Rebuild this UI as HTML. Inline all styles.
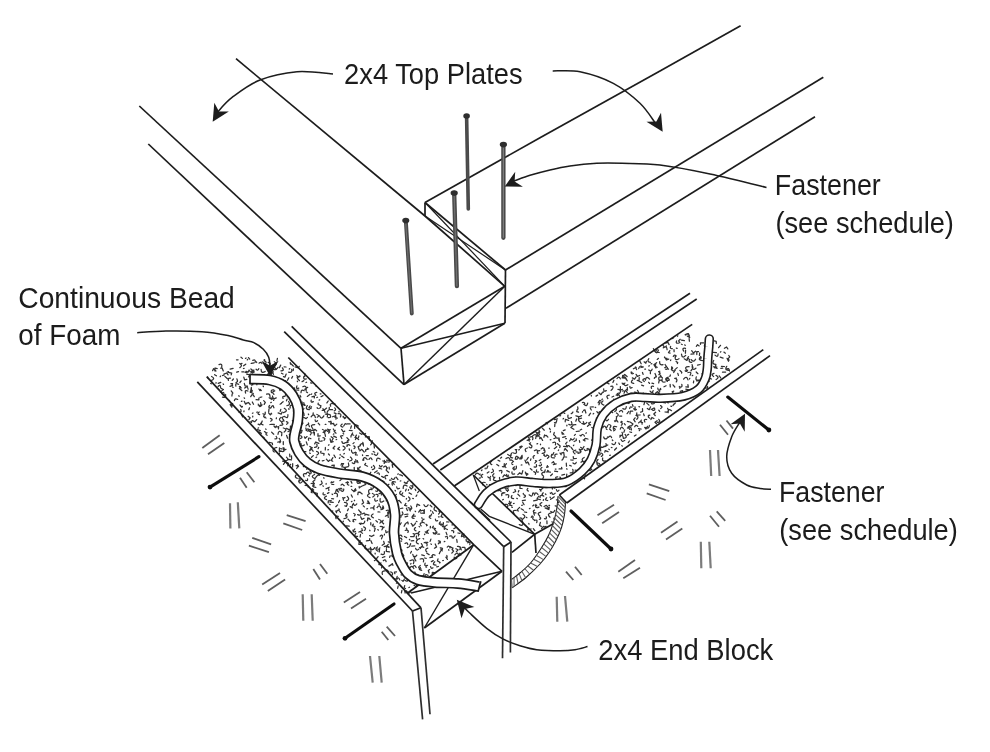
<!DOCTYPE html>
<html><head><meta charset="utf-8"><title>SIP corner detail</title>
<style>html,body{margin:0;padding:0;background:#fff}svg{display:block}text{font-family:"Liberation Sans",sans-serif}</style>
</head><body>
<svg width="990" height="752" viewBox="0 0 990 752" stroke-linecap="butt">
<defs><filter id="soft" x="0" y="0" width="990" height="752" filterUnits="userSpaceOnUse"><feGaussianBlur stdDeviation="0.42"/></filter></defs>
<rect width="990" height="752" fill="#ffffff"/>
<g filter="url(#soft)">
<path d="M236.0,58.7 L425.0,216.0 L504.8,286.3" fill="none" stroke="#1c1c1c" stroke-width="1.7" />
<path d="M139.3,106.0 L401.0,348.3" fill="none" stroke="#1c1c1c" stroke-width="1.7" />
<path d="M148.3,144.0 L404.0,384.6" fill="none" stroke="#1c1c1c" stroke-width="1.7" />
<path d="M401.0,348.3 L404.0,384.6" fill="none" stroke="#1c1c1c" stroke-width="1.7" />
<path d="M401.0,348.3 L504.8,286.3" fill="none" stroke="#1c1c1c" stroke-width="1.7" />
<path d="M404.0,384.6 L504.8,323.3" fill="none" stroke="#1c1c1c" stroke-width="1.7" />
<path d="M401.0,348.3 L504.8,323.3" fill="none" stroke="#1c1c1c" stroke-width="1.45" />
<path d="M404.0,384.6 L504.8,286.3" fill="none" stroke="#1c1c1c" stroke-width="1.45" />
<path d="M425.0,202.5 L540.0,137.7 L660.0,71.0 L740.6,25.8" fill="none" stroke="#1c1c1c" stroke-width="1.7" />
<path d="M505.5,270.0 L823.3,77.3" fill="none" stroke="#1c1c1c" stroke-width="1.7" />
<path d="M506.0,308.3 L815.0,116.7" fill="none" stroke="#1c1c1c" stroke-width="1.7" />
<path d="M505.5,270.0 L505.0,323.3" fill="none" stroke="#1c1c1c" stroke-width="1.7" />
<path d="M425.0,202.5 L425.0,216.0" fill="none" stroke="#1c1c1c" stroke-width="1.7" />
<path d="M425.0,202.5 L505.5,270.0" fill="none" stroke="#1c1c1c" stroke-width="1.7" />
<path d="M425.0,202.5 L504.8,286.3" fill="none" stroke="#1c1c1c" stroke-width="1.2" />
<path d="M425.0,216.0 L505.5,270.0" fill="none" stroke="#1c1c1c" stroke-width="1.2" />
<path d="M246.1,358.0l-0.6,0.4M248.5,357.6l1.2,1.5M236.5,359.8l1.6,0.0M242.4,358.4l-1.4,-1.2M247.3,359.9l0.4,-0.6M252.8,360.4q3.0,-1.4 2.4,1.8M256.7,362.5l-0.3,-0.7M264.2,359.6l0.6,0.4M268.1,362.3q3.8,1.1 0.6,3.5M274.3,361.7q4.1,1.8 0.3,4.2M277.4,358.4l-0.5,2.6M290.2,362.5l0.3,1.7M221.7,366.9q0.8,-3.7 -2.7,-2.3M242.0,363.4l-1.7,0.7M243.6,365.8l2.1,-1.6M251.2,363.4l3.0,-0.6M262.0,363.5q-1.2,-2.3 -2.9,-0.3M264.9,364.3q2.8,-2.7 -1.0,-3.4M268.5,367.2l1.8,-0.3M273.4,366.3q-1.4,4.3 3.0,3.2M280.7,365.1l-1.3,2.5M284.1,366.8l1.9,0.2M291.0,363.8l2.3,2.2M295.1,366.9l3.4,0.9l0.7,-1.5M214.8,370.8l0.3,-2.8l2.1,0.6M215.9,371.0l-2.3,-2.4l-1.0,2.1M223.3,370.9l-1.2,-2.9l-1.4,0.1M228.6,371.6l-1.4,0.4M233.1,368.4l-3.0,0.8M239.8,367.7q3.4,-2.2 -0.1,-4.2M244.2,368.3l-0.7,0.2M246.1,371.3l2.2,0.7l0.8,-2.0M253.9,370.0q-1.7,5.0 -4.5,0.5M258.8,368.6q-0.8,2.6 -2.7,0.6M261.1,369.4q0.1,4.7 4.1,2.1M269.9,371.4l2.0,1.3l-0.7,2.3M273.0,371.2l0.1,0.7M277.9,367.4q-1.4,2.9 -3.1,0.2M282.4,367.8q2.4,3.1 -1.5,3.0M289.8,368.6l-0.5,0.4M293.4,368.9l-0.2,1.6M216.4,375.8l-1.8,-1.1M222.4,375.5l1.6,-0.3M223.9,374.1l2.8,-1.1l1.4,1.8M228.3,372.3l3.4,0.8l-0.5,1.8M236.7,372.2l1.8,-0.6M241.8,371.8l2.0,-0.0M247.0,372.8l-2.0,-0.6M251.2,372.0l1.6,-1.4l-1.9,-1.6M254.3,371.9l-2.0,1.1l-0.6,-1.9M259.2,376.1l0.8,-1.6M270.5,372.6l-3.1,1.8l1.1,0.9M273.4,374.4l-0.6,-2.1M281.5,373.2l1.5,0.8M286.2,374.1l-1.3,3.1l-1.4,-0.6M288.6,372.1q3.9,1.3 3.1,-2.7M296.9,375.4q0.8,3.0 3.1,1.0M299.9,375.8l-2.7,1.7l0.9,1.7M207.7,377.1l-0.1,0.7M211.6,376.5q4.0,1.8 0.1,3.9M220.2,376.7l0.3,-0.6M224.9,376.4l2.3,2.1M228.4,380.4q-0.7,-2.7 2.0,-2.3M233.4,379.0l-1.2,1.3M236.9,378.9l0.6,1.9M243.8,377.1l0.8,2.8l2.3,-0.6M248.7,376.9q1.7,-3.1 -1.8,-2.5M252.6,376.5q2.7,1.1 1.9,-1.7M262.7,377.0q2.7,-1.2 2.8,1.8M266.0,376.9q0.3,4.1 -3.5,2.7M276.2,378.5l1.6,-0.3M285.0,380.6l0.7,0.2M287.5,380.3l1.3,-2.5M291.7,378.1l0.9,-1.6M297.5,378.6l1.9,1.9M304.8,376.4l0.1,-2.9M306.3,378.9q-3.4,0.9 -2.4,-2.4M210.7,383.4l0.6,0.4M216.1,382.5l-0.1,0.7M220.8,382.4l-2.6,1.0M223.5,384.4l-0.4,-0.5M230.9,383.7l1.7,0.0M236.0,382.7l1.4,-1.1M241.2,380.9l-1.3,1.6M244.3,383.4l0.8,2.6l2.4,0.2M251.4,382.8l1.5,1.9l-1.4,0.4M256.9,384.8q-0.2,-3.5 -3.2,-1.7M262.3,380.9l-1.3,0.8M266.8,380.8l1.6,-0.6M271.0,383.0l0.8,-1.8M274.6,381.0l0.4,-2.0l1.8,0.8M281.6,382.8l1.2,0.9M284.8,384.1l1.4,-2.0l1.8,1.8M297.3,381.1l0.3,0.6M302.0,381.7l1.8,-1.1M306.0,382.5l0.6,-0.3M312.0,383.2l-1.4,-0.3M218.1,386.5q2.3,-2.6 2.5,0.9M223.4,389.6l-2.5,-1.3M230.0,386.3l2.6,-1.0l-0.9,-1.6M232.6,387.0l0.6,0.4M235.9,386.2q-0.9,-4.1 2.7,-1.9M241.3,387.9l-1.9,-1.5M248.1,389.2q-0.5,-3.8 -3.3,-1.2M251.3,387.3l0.1,1.9M258.9,389.0l1.1,1.7M263.1,386.0l0.3,0.6M279.3,388.5l0.7,2.0l1.5,-1.2M280.8,389.1l0.1,0.7M287.1,385.3l-0.1,-1.8M294.6,388.4l-0.4,-0.6M298.8,388.2q-3.3,0.8 -1.9,-2.3M302.8,386.7q3.7,-1.6 3.4,2.4M307.7,387.3l-2.9,1.9l1.4,1.1M316.2,386.4l-0.1,-0.7M222.3,390.4l-1.8,1.6M224.7,394.0q2.7,4.2 -2.2,3.2M231.2,390.9l1.7,2.2M241.8,390.5l-2.4,-1.9l1.0,-2.0M245.6,393.1q-1.2,-3.5 2.3,-2.1M250.4,392.3l2.0,-1.3l-1.5,-1.9M253.3,393.5l-3.1,-1.3l0.9,-2.4M261.3,390.6l-0.9,-1.2M266.6,394.2q3.3,-1.3 3.4,2.3M271.5,392.6q-1.1,-3.2 2.3,-2.7M274.8,390.9q-3.7,0.9 -0.9,3.4M286.2,393.3l-1.0,2.2M291.1,393.3l-0.1,-0.7M295.7,390.0l3.1,0.1M301.0,392.7q-0.0,-3.6 3.2,-2.0M306.3,391.8l1.2,0.9M311.7,393.9l-0.5,0.5M316.8,392.3q-3.5,0.5 -1.0,3.0M320.9,393.9l-0.7,-0.1M224.1,395.8l-2.4,-2.3l2.0,-1.0M225.8,394.9l-0.6,-0.4M231.9,396.0l0.3,-2.2M238.8,395.7l0.4,0.6M244.2,397.8l0.4,0.5M254.3,396.7q-1.8,-4.0 -3.6,0.0M261.8,397.0l-1.8,0.4M269.1,397.8l2.8,1.7l1.1,-1.7M271.9,398.0l-1.8,-0.1M276.2,397.9q-3.4,2.0 -3.7,-1.9M284.9,396.5q-2.9,-0.9 -1.8,1.9M287.3,396.6l0.7,0.1M294.6,396.4l-0.2,2.7l-2.3,-0.7M300.1,395.4l0.5,1.5M301.0,396.8l-0.7,0.2M309.8,394.5l-2.5,1.9M311.9,396.8l2.5,-0.7l-0.1,1.8M316.8,397.5l0.7,-0.3M321.0,396.7l2.0,-1.1M229.3,400.5l0.4,0.6M237.7,399.4q-2.6,-1.7 -3.3,1.3M242.0,401.1l-0.6,0.3M244.2,401.3l1.3,2.8l2.0,-1.2M252.3,402.0l1.2,2.3M256.1,399.6l2.8,0.2l0.0,-1.8M263.7,400.6l1.6,1.8l-1.1,2.0M270.8,402.6l0.6,-0.3M273.6,400.4l0.3,-0.6M281.8,402.7l1.3,-1.0M286.5,400.8l0.6,-1.7M288.6,401.5q2.3,3.4 -1.7,4.2M296.4,399.6q0.1,-3.2 -2.9,-2.1M302.2,402.0q-0.6,3.2 2.5,2.5M303.8,402.7l0.4,2.6M313.3,401.6q-2.7,1.6 -2.1,-1.5M319.8,399.8l-0.6,0.3M326.9,402.9l1.3,-1.9M332.6,403.0l-2.3,1.2l0.3,1.9M230.2,404.6l1.6,2.5M232.7,403.5l-2.0,0.8l1.6,1.5M240.0,405.1l1.6,1.9M242.0,407.0l0.4,-0.5M250.2,404.5l-1.8,-2.0l-2.2,0.8M258.3,405.1q3.6,1.2 2.3,-2.4M262.0,404.8q-2.6,3.9 -3.8,-0.6M269.6,405.5q-2.0,2.4 1.1,2.6M271.1,407.4l0.4,-0.6M280.1,404.2l1.3,-0.8M293.1,405.6q-3.7,-1.5 -2.9,2.4M295.8,403.6q0.7,4.7 -3.3,2.1M305.1,405.4l-0.5,-0.5M307.3,405.6q-2.7,4.1 2.2,4.0M311.2,407.3l0.3,-0.6M319.7,405.1q2.7,2.5 -0.9,3.4M321.0,405.8l-2.9,-1.3l0.1,-1.4M332.5,403.7l2.7,0.5M240.7,409.5q1.4,2.8 -1.7,2.6M244.0,410.9l-0.1,0.7M248.8,409.7l0.7,-1.9M259.2,412.0q-2.5,1.8 0.4,2.7M265.2,412.2q0.5,3.1 -2.3,1.6M268.7,411.6l0.3,-2.7M273.9,407.8l-0.8,-2.2l-1.3,0.7M280.8,409.4l-0.6,1.9M284.3,408.3q4.6,3.2 -0.9,4.3M289.0,409.4l-0.3,-0.7M293.4,410.9q2.2,-3.5 4.4,-0.0M298.8,411.9l-0.3,-1.4M304.0,408.6l-1.4,1.3M311.1,408.6l-2.2,-1.0l1.2,-1.7M317.5,408.3l-0.4,-0.6M322.2,410.4l2.0,-0.3l0.9,2.3M326.6,408.1l-2.6,2.1l-1.1,-1.5M332.5,409.7l-3.3,-0.1l0.1,-2.2M334.2,410.8q2.5,-1.0 0.5,-2.9M339.0,411.3l-0.0,0.7M248.1,416.3l2.0,1.5l-1.2,1.8M252.4,413.3l0.6,-0.3M256.9,412.5l0.2,-0.7M265.2,414.1q-3.5,2.8 0.8,3.9M268.6,412.9l1.7,2.0l1.0,-1.7M271.7,413.9l-0.5,-0.4M278.1,412.9l3.2,1.2l0.8,-2.1M284.5,416.3q-4.0,0.7 -1.0,3.5M287.9,414.7q0.3,4.9 -3.4,1.7M295.1,415.0l2.8,1.1l-0.8,1.7M297.4,415.2q-1.1,-3.5 2.5,-2.9M304.1,415.4q0.1,-4.9 -3.9,-2.1M308.3,414.0l0.3,0.6M313.2,412.8l-0.1,2.4M316.9,414.5q3.2,0.9 0.4,2.7M323.8,415.9q-2.2,4.3 -4.3,-0.1M330.1,414.6q-5.0,-0.3 -1.8,-4.2M334.2,412.9l1.9,0.7M335.8,414.9l-0.8,2.6l2.4,0.5M343.3,416.4l1.3,2.2l1.1,-1.1M242.7,417.0l-0.9,-1.7M245.5,417.9l-0.7,-0.1M252.7,416.9l0.1,-0.7M256.7,419.6l-1.8,2.1M262.2,421.0l-1.1,3.0l1.9,0.9M265.1,417.0l-0.3,0.6M270.4,418.4q3.3,1.1 0.3,2.8M276.3,418.6l0.1,-0.7M280.9,417.4q-2.9,1.9 -0.1,3.9M284.1,420.9q-4.1,0.4 -1.2,3.3M292.4,420.5l0.3,0.6M295.7,420.2l0.1,1.5M300.3,420.8l-1.8,-0.0M303.5,417.3l2.6,1.3l1.3,-1.2M311.1,416.8q2.9,-4.0 4.3,0.7M315.1,419.8q0.2,3.1 2.4,0.9M327.2,416.9q1.2,-2.9 -1.9,-2.8M328.3,417.7q3.5,0.3 1.8,-2.7M335.9,419.2q1.0,-4.8 -3.3,-2.4M340.4,416.9q1.7,-3.7 -2.3,-3.2M345.6,418.0l-2.7,-1.0M250.1,422.2l0.1,-0.7M254.1,421.5q-2.4,-2.2 -2.6,1.0M261.4,422.6l-1.6,2.2l-1.7,-0.6M269.9,424.5l1.8,-0.2M274.3,424.4l-2.2,-0.1M282.2,425.2l-2.2,0.2M286.6,424.3q3.0,-1.6 -0.2,-2.7M299.6,425.6l1.8,0.9l-0.2,1.4M303.0,423.1l-1.7,2.0M308.7,423.7l-0.3,-0.7M314.7,424.5q-5.4,0.0 -1.9,4.1M319.7,424.9l-1.5,-1.7M325.2,424.4l0.7,-0.0M328.7,421.6l2.6,0.6l-0.7,1.8M333.8,423.3l-2.7,0.5l-0.2,-2.6M336.8,424.1l-1.9,1.8l-1.3,-1.8M342.2,424.1q-3.1,2.1 0.5,3.0M347.3,423.9l2.8,-0.0M257.6,429.6l2.7,1.1M258.6,427.8l-0.6,0.4M266.1,429.3l-0.6,-0.3M274.0,426.0l1.3,1.5l1.1,-1.5M278.4,428.8l0.3,-2.2l-2.0,0.4M283.3,428.0q4.8,1.1 0.9,4.1M290.4,426.0q0.6,5.7 -4.0,2.3M293.9,427.3l0.7,0.0M299.5,426.9l-0.0,0.7M305.8,428.0q0.5,5.3 4.1,1.4M309.4,426.7q-0.8,-4.0 -3.4,-0.8M313.9,429.9l-2.9,0.8l-0.9,-1.2M322.5,429.5q3.4,0.8 0.6,2.9M330.3,429.7l-1.9,0.8l1.3,1.5M333.3,429.0l1.4,2.3M341.6,429.4l1.7,2.6l1.4,-0.9M343.7,426.0l1.4,-2.3l1.4,0.4M351.4,425.9l-0.7,2.4M354.7,428.3q-0.8,-5.4 3.6,-2.2M259.1,431.9l2.2,1.4M264.5,431.6l1.3,1.0M267.0,432.7q-2.3,1.4 0.1,2.6M271.6,432.1l2.1,2.1M278.0,434.3q0.4,-4.8 3.9,-1.5M281.8,433.6l-0.2,2.1M288.1,431.6q3.0,-2.1 2.6,1.5M291.1,431.8l0.5,2.2l-2.3,0.7M297.8,434.4q0.2,-4.0 3.1,-1.2M301.4,432.6l0.7,-2.2l-2.2,-0.3M306.1,430.3q2.4,-3.0 3.1,0.7M313.6,431.1l1.2,-1.8l1.8,1.5M318.0,433.7l-0.1,2.5l2.4,-0.4M324.4,432.9l1.5,-3.0l1.6,1.4M328.7,433.1l0.7,-3.1l-1.9,-0.8M333.3,434.2l0.6,-0.3M336.0,433.2l-1.8,-1.8l1.0,-1.1M343.7,434.0l-0.6,-0.4M349.3,430.3l2.8,0.3M352.6,433.0l-1.0,1.8M359.6,433.0l2.3,1.4M362.7,433.2l1.5,1.4l1.3,-1.2M263.4,437.2l0.6,0.4M274.9,438.8q3.2,0.4 1.3,-2.3M279.2,438.4q2.9,3.2 -1.4,3.7M287.6,438.2l-1.0,-2.8M295.1,437.8l-1.2,2.5l2.0,1.5M300.3,438.5q3.1,-0.9 0.5,-2.8M307.1,436.6l-2.0,1.7l-0.6,-1.4M310.3,434.8q2.4,-2.8 -1.2,-3.6M314.3,435.1l0.1,-2.7l-1.5,0.5M319.0,438.0q-1.0,4.3 3.2,2.9M325.5,436.3l-0.6,-2.6M330.1,438.9l0.8,3.4l2.3,-0.6M336.3,437.4l-2.6,-1.3M341.8,438.5l-1.3,-2.5l2.3,-0.3M346.9,437.7l2.1,2.3l-2.0,1.2M351.0,437.0q-0.3,-3.3 2.7,-1.8M356.4,435.1l-1.2,2.3M358.9,436.0q-0.6,4.5 -4.0,1.4M365.4,436.9l0.6,-0.3M269.1,442.4l3.2,0.6l0.2,1.6M279.9,442.8l0.7,-1.4M283.3,441.5l-0.0,3.0M292.7,442.5l0.3,-0.6M296.4,439.3q-2.3,1.4 -2.2,-1.3M300.9,443.3q0.2,4.1 3.4,1.6M308.6,440.2q-0.7,-3.4 2.3,-1.5M318.8,443.4l-3.1,-1.4l-1.0,1.9M324.0,440.3q2.1,-2.3 -1.0,-2.6M331.8,441.0l1.4,-2.8l-2.0,-1.5M336.7,439.3l-0.6,0.4M345.1,442.7q-2.5,1.9 -3.2,-1.2M345.8,442.7l2.3,-0.4l-0.5,-1.7M353.0,443.6l1.1,-1.0M358.7,439.6l-2.2,-1.9l-1.1,1.8M362.8,442.3l0.6,2.2M369.5,440.2l-0.3,-3.6l-1.8,0.3M371.2,442.5l1.2,-1.7M275.1,447.9l1.7,-0.4M279.5,447.8l-0.2,3.6l2.1,-0.1M284.0,448.0q1.2,5.1 -3.5,2.9M296.1,446.4l-2.0,-1.4l-0.8,1.9M298.6,444.1l-0.5,-2.8l1.9,0.4M307.3,444.9l-1.0,-3.0M312.2,447.6l-0.9,1.9M316.8,444.2q1.1,3.2 -2.3,3.1M318.7,447.3l-0.6,1.4M325.4,447.5l-0.1,2.4M328.5,445.1l0.6,-0.3M334.8,446.2l-1.8,1.9l1.2,1.0M339.4,447.3l-1.7,1.6l2.1,1.1M347.1,444.8l-0.1,1.6M349.9,445.4q-1.7,-1.8 -2.7,0.5M353.8,445.9q2.4,1.1 0.3,2.7M360.2,444.8q2.9,-2.6 3.3,1.2M367.2,448.1l0.5,0.4M370.6,444.8l1.0,-1.2M374.4,447.9l-0.3,-2.2M274.5,448.3q-2.9,1.7 -0.2,3.7M281.4,448.9l-0.6,-0.3M286.0,449.3q-3.4,2.4 -2.9,-1.7M301.2,448.3l-0.2,0.7M309.7,450.1l1.8,-2.5l-1.6,-1.2M313.1,451.3q-1.2,-3.6 -3.4,-0.5M316.6,451.4q3.9,1.5 0.3,3.6M321.0,451.3l-0.3,0.6M327.8,449.8l0.7,-0.2M343.2,450.1q4.1,-2.1 -0.1,-4.0M349.2,448.8l0.3,1.4M351.4,450.1q0.1,4.5 4.0,2.1M359.2,449.7l-1.1,-3.0l2.3,-1.1M364.2,452.0l-2.4,-2.7l-1.9,1.5M368.7,449.0l-3.1,0.9l0.1,1.4M373.2,451.5l1.5,0.7M279.4,453.5l0.1,-0.7M286.5,457.1q3.3,3.5 -1.5,3.7M289.7,454.1l0.2,2.5M294.4,452.9l0.7,-3.3l2.2,0.6M298.7,453.1l-2.6,0.3M304.2,454.2l-0.6,-2.5l2.3,0.0M309.7,453.0l0.6,0.4M320.8,453.0l3.3,0.7l-0.3,1.5M328.5,454.0l1.0,1.1M334.0,455.1l1.4,2.4M340.2,454.3l0.0,0.7M343.8,453.9l0.5,-0.4M350.4,457.1q3.7,3.0 -1.0,3.9M357.4,455.0l-2.0,-0.2l0.8,-2.1M362.6,455.5l-0.1,-0.7M366.3,455.7l2.0,0.0M371.8,453.9l0.7,0.2M374.3,454.2q2.9,2.6 3.6,-1.2M282.6,461.2q3.7,0.7 0.9,3.1M288.3,459.3l3.2,0.5M291.6,458.6l-0.1,-2.8M298.5,457.5l2.1,-0.8l-1.1,-1.2M302.1,458.7q4.0,0.3 1.4,3.3M311.5,457.3l1.8,-1.7M316.0,457.5l0.6,-0.4M324.0,460.5l-1.7,0.4M326.4,459.2l1.9,2.2l1.6,-1.3M332.9,457.7l-1.7,2.7l1.5,0.8M339.4,458.3l0.5,-0.5M344.0,457.7l-2.4,-1.6M347.7,459.5l0.7,0.0M354.7,461.3q0.5,3.7 -2.5,1.5M357.3,460.7l0.7,2.0M363.5,458.6l0.3,1.7M367.2,459.5q-2.8,-3.9 -4.5,0.6M372.0,459.6q-1.3,-3.2 -3.0,-0.2M380.1,459.1q-3.6,-2.7 -3.5,1.8M382.8,461.0l2.7,0.7l-1.3,1.7M386.5,460.2l3.0,0.1l-0.6,2.0M286.1,462.3q3.9,0.3 1.6,3.5M292.7,463.7l-0.1,3.2M297.7,464.9l0.9,1.8M301.6,462.0l-0.9,-2.0M306.8,464.3q3.3,1.2 2.4,-2.2M308.9,462.0q-2.4,3.9 -3.9,-0.4M313.3,465.4l-2.8,-0.3M320.1,464.8q-4.1,-1.7 -0.6,-4.5M331.8,465.3l2.5,-0.1l-0.4,1.8M342.1,466.2l1.0,-1.9M343.6,463.6l-2.0,-0.1l-0.6,1.6M348.8,465.7l-0.4,-2.7M356.2,462.2l-0.5,-2.5M367.5,466.2l-2.9,-1.4l1.0,-1.5M373.5,465.5q3.0,3.1 -1.2,4.1M382.1,465.6q-1.4,2.8 -2.6,-0.1M387.3,461.9l-3.1,0.6l0.2,-2.1M392.6,464.7l-0.4,-0.6M291.6,467.6q-3.6,-0.8 -0.9,-3.3M296.7,468.5l1.6,-2.6l-2.2,-0.3M304.0,466.3l-0.6,0.3M307.2,468.8l-0.6,0.4M313.4,470.0l0.8,2.8M316.2,470.4q3.1,1.0 2.3,-2.2M323.9,466.6l2.7,-0.3M327.0,466.9l-0.4,-0.6M335.2,470.7l-1.5,-2.2M341.9,466.9q4.1,-0.4 2.5,3.4M348.3,466.7l-3.1,0.7l0.3,1.7M354.2,467.3l0.1,2.3M357.5,467.8l0.6,3.3l-1.6,-0.4M360.9,470.4l-0.2,3.2l-1.9,-0.4M371.8,466.9l-0.3,0.6M378.9,468.2l2.8,0.8M383.7,467.0q2.6,-2.3 3.0,1.1M389.1,467.1l0.2,1.8M392.8,467.3l-0.6,-2.1l1.8,-1.3M296.1,475.0q-2.0,2.5 1.2,3.3M306.0,473.7q2.4,-3.3 3.7,0.5M309.5,474.2q3.2,-0.9 0.6,-3.0M314.6,474.5q-4.5,1.8 -0.2,3.9M321.4,472.8l-2.1,2.6l-1.5,-1.7M326.1,473.9q0.1,3.1 2.4,1.0M329.3,472.3l0.8,-2.7l2.5,0.2M333.4,471.3l-0.6,0.3M339.5,471.4l-1.6,-2.0l-1.2,2.1M344.7,474.6l-2.5,1.2M355.2,472.5l-0.1,2.1M360.0,470.8q-3.0,-2.2 0.3,-3.9M365.9,473.3l2.7,1.9l1.5,-1.5M370.8,472.2l-1.4,2.6l-1.6,-0.3M374.7,472.6l2.6,-1.8M379.3,474.6q0.0,-2.5 -2.2,-1.3M388.5,472.5l-2.4,-2.4l1.3,-2.2M397.7,474.2l0.6,-0.3M399.6,474.7l0.6,0.3M299.0,478.5q2.8,1.9 -0.4,2.9M304.1,476.7q-2.1,-3.9 2.2,-2.9M308.7,475.7l0.7,0.1M315.1,478.5l1.6,-2.4M318.1,475.3l-0.7,0.3M323.8,477.6l0.2,0.7M327.3,475.4l2.3,1.0M331.3,476.0l-0.1,0.7M342.7,478.8l2.8,-1.4l-0.8,-2.4M348.7,477.4q4.0,1.7 2.7,-2.4M357.0,478.6l0.0,2.6l1.9,0.5M364.3,477.3l-3.2,0.3l-0.2,-1.6M371.5,478.7l0.3,0.6M376.7,479.5q-3.7,2.2 0.0,4.4M383.6,477.4l-1.9,-1.0M385.8,478.8q-2.5,-3.6 1.8,-3.3M391.5,478.3q2.2,2.4 3.4,-0.6M396.2,477.1l1.8,2.4M402.5,475.9l-2.0,-1.1M302.3,481.6q-3.4,3.5 -3.4,-1.4M305.5,480.3q2.5,1.3 2.0,-1.5M311.1,483.5q3.6,-0.6 2.7,2.9M315.0,479.8l-2.1,1.9l0.9,1.2M321.3,481.0q2.2,3.0 -1.4,3.9M326.1,484.2l0.1,-0.7M331.4,482.5l-0.0,-0.7M333.8,481.8l-2.9,1.1M340.0,480.6q3.5,-2.7 -0.8,-3.5M345.9,482.7l1.9,-1.0M351.0,481.4l0.9,1.7M357.0,480.3q-0.5,4.9 3.4,1.9M360.2,483.2q-3.2,-2.9 1.1,-3.4M364.9,483.3q2.5,-3.4 3.8,0.7M371.0,480.1q2.6,3.7 3.7,-0.7M373.5,483.1q0.8,-3.3 3.5,-1.3M378.5,482.9l-0.4,-2.3M384.1,481.7l-1.6,-1.0M391.1,480.1l-1.6,0.0M395.5,482.0q-4.6,-1.5 -3.1,3.1M400.9,480.8l-0.7,0.2M407.1,483.4l-2.7,-0.8M408.3,480.9l-2.2,2.7l-1.7,-1.4M305.1,485.3l2.6,0.4M308.4,486.5l-0.2,0.7M312.4,488.7l0.5,0.5M315.8,487.4q-5.3,-0.4 -1.4,-4.0M322.8,485.8l0.6,0.4M329.3,487.2l-1.8,0.8M333.8,484.5l-1.9,-0.1M339.1,488.5q-3.6,1.3 -0.5,3.6M344.2,485.7l-1.8,-1.6l-1.3,1.0M348.8,485.1q-3.0,-0.9 -0.4,-2.6M351.0,486.3l0.7,0.1M359.1,486.5l0.2,1.5M362.6,485.8l-2.6,1.5M365.8,484.4l-2.9,1.3M370.9,488.0q4.2,1.1 2.2,-2.7M378.4,486.9l-1.9,1.7M381.0,486.7q-1.5,-2.9 -2.7,0.1M388.4,484.8l0.5,-0.5M394.2,484.5l-1.6,-2.6M399.5,488.3q-2.6,1.7 -2.8,-1.5M403.2,488.4q-0.2,-4.8 3.9,-2.4M409.7,487.1l1.5,2.0l1.7,-1.9M410.8,485.7l1.9,0.8l0.2,-1.7M312.1,492.8l-0.7,-2.1l1.8,-0.2M313.7,490.0l-2.2,0.5l-0.2,1.9M323.3,492.8q-1.0,2.8 1.8,1.9M328.8,490.5q0.3,-3.5 -2.8,-1.7M336.4,489.3l-0.7,2.6M339.2,490.2l1.8,-2.1l1.0,1.1M343.8,489.0q-0.1,3.6 -3.0,1.5M351.7,489.5q1.8,2.8 3.3,-0.2M353.8,491.6l2.2,-1.2l-0.6,-1.8M368.9,492.9q-1.2,-4.3 3.2,-3.3M375.7,491.0q2.8,1.0 1.8,-1.8M381.4,491.8l-0.5,-0.5M384.6,489.7l-1.4,-2.3l1.2,-0.9M388.6,491.1l-0.7,0.2M395.1,490.3l0.3,0.6M400.9,491.2q-2.5,1.8 -0.0,3.5M405.5,491.0l0.7,-1.8M408.6,489.7l-0.2,0.7M415.1,489.1l0.7,1.4M418.9,491.1l-1.3,1.5M317.1,496.3l0.2,-3.0l-2.0,-0.4M327.5,493.4l1.4,-0.8M332.6,494.5l-0.6,-0.4M337.1,496.7q1.5,-4.0 -2.7,-3.4M345.0,497.6q-2.8,0.1 -1.4,2.6M347.3,496.5q3.1,2.9 -0.9,4.4M351.3,494.9l1.0,2.2M357.8,494.6l0.4,-2.5l1.9,0.4M362.2,493.9l-2.4,-1.9M369.7,493.4q-4.6,2.5 0.3,4.2M372.4,493.5q3.9,1.3 0.4,3.5M375.9,494.5q3.1,-0.5 1.7,2.3M381.4,494.9q-0.0,-2.7 -2.3,-1.3M387.5,497.6l0.7,-0.1M396.3,497.1q-2.0,-1.3 -0.0,-2.7M404.3,496.5q-4.0,-0.5 -1.6,-3.7M408.6,496.9q3.1,2.5 -0.5,4.2M411.5,494.2l-2.4,-1.3M416.0,496.3l0.9,-1.3M326.5,499.7q-4.2,-1.7 -0.1,-3.6M331.2,500.7l-2.9,0.1l-0.1,2.1M333.6,498.8l-1.9,-0.2M339.6,500.5l-1.0,2.1M344.0,498.3l-1.4,-0.6M351.4,501.7l0.6,-0.4M354.3,500.8l0.3,-0.6M362.3,499.7l1.3,3.0l-1.6,1.3M367.7,501.0l1.7,2.1M368.6,501.4l-0.7,0.1M377.4,500.5q-2.9,1.8 -2.6,-1.6M380.2,498.7q-0.9,5.4 3.6,2.3M386.5,498.0l3.1,0.4M389.0,500.0q-2.3,-2.2 -2.8,0.9M393.9,502.2l2.3,-1.4l-0.9,-2.1M399.2,500.5l-0.7,0.2M406.5,498.5l-0.2,0.7M412.7,498.4l0.7,0.2M330.1,504.6l-0.6,-0.3M333.2,502.4l-3.1,-0.3M337.6,504.9l-1.8,1.8M344.5,502.4q4.5,0.3 1.7,3.9M346.5,506.3l-1.7,-0.5M352.8,504.3l-0.6,1.9M356.8,503.9q-2.4,3.4 -3.4,-0.6M363.2,505.8l1.2,1.1M369.7,503.7l-2.6,-0.6M374.3,505.8l-1.1,2.5M378.9,503.9l0.4,0.6M382.8,505.9q2.3,3.4 -1.8,3.7M388.9,504.1q2.6,-1.5 0.2,-3.3M391.1,506.2l-0.9,-2.5l-1.6,1.2M398.2,504.7l-2.9,-1.1M401.2,502.9l-2.0,-2.4l-1.3,0.5M406.8,505.8l-2.2,-0.4l1.3,-2.0M410.8,506.0q2.5,3.4 -1.7,3.8M419.7,505.3l-2.6,-1.1l-0.5,2.5M423.9,504.7q1.9,3.9 4.2,0.2M430.2,505.2l1.7,1.7M432.2,503.4l0.6,0.3M332.7,511.0l-0.5,0.5M335.7,511.1l0.7,0.1M339.4,509.3l-0.6,-0.3M347.5,510.7l0.9,-1.9M352.5,507.9l-2.3,-1.3M358.6,509.9l2.0,2.5M366.8,508.8l0.7,-0.1M370.6,508.0l3.1,-0.4l0.3,2.0M377.1,507.6q2.5,-3.7 3.7,0.6M382.0,508.3l1.0,-1.4M386.3,510.5q4.2,-1.4 2.6,2.7M392.7,506.9l-0.8,1.7M394.3,507.2l2.2,-1.0l-0.4,-1.9M402.7,508.2l-2.1,0.3M406.4,508.2l1.0,2.3M410.3,510.9l-0.1,-2.6l-2.1,-0.6M415.1,511.1l0.5,0.5M420.5,510.9q3.9,-1.9 3.6,2.5M424.3,509.6l0.0,3.6l-2.0,-0.0M430.7,510.3l0.1,0.7M434.7,507.1q-1.9,3.4 1.9,4.1M336.3,512.7q1.5,-5.1 4.1,-0.4M346.1,514.6q2.5,3.8 -2.1,4.1M353.7,513.5q2.5,0.5 0.8,2.4M357.6,514.6q4.4,1.8 3.3,-2.8M362.6,513.8q2.9,-1.8 2.3,1.6M366.1,514.4l2.9,0.7M373.1,514.0q-3.8,2.2 0.3,3.8M379.9,512.0l-1.9,-0.1M388.3,514.1q-1.5,-1.6 0.6,-2.4M395.2,514.6l1.0,-1.4M398.2,512.9l-3.1,0.3l-0.6,-1.6M402.2,511.9q2.0,2.9 -1.4,3.6M407.9,514.2l-3.1,0.3M412.8,515.7q-2.0,2.5 1.2,2.7M418.7,512.1l1.7,-2.5M421.3,513.2l-0.6,-0.3M429.9,515.7q-1.7,2.0 0.9,2.6M432.5,511.7l0.8,1.7M438.6,514.1l1.4,-1.9l-1.1,-1.2M442.5,513.4l-1.5,3.2l1.9,0.7M338.3,516.3q-3.5,-1.0 -2.2,2.4M345.6,515.9l1.4,-2.3M355.8,519.8q-2.7,-1.5 -2.8,1.6M360.6,516.8l1.3,2.6l2.2,-1.1M367.7,518.0l-0.1,2.8M368.7,518.0l0.6,0.3M378.8,519.5q3.9,0.7 1.1,3.6M385.4,516.2l2.5,-1.3l0.4,2.5M390.9,516.0l0.8,1.4M395.6,518.4l-2.6,0.5M400.7,517.1l0.6,-0.3M407.7,516.1l-2.6,0.8M412.3,516.4l0.7,-0.1M415.3,516.2l-2.3,-0.3l0.9,-1.7M421.7,517.9l0.6,0.3M424.0,519.1q-4.4,2.3 0.4,3.9M430.6,516.2l1.0,-2.1M435.4,519.1q-0.0,2.4 2.2,1.5M438.5,516.9l0.7,-0.1M343.0,521.8l0.4,-0.6M350.0,521.4l-2.0,-2.2M353.8,521.8l-0.8,-1.9M359.3,523.3l1.5,1.1M360.9,523.1q3.4,1.8 3.9,-2.0M367.3,520.4q0.7,-2.8 3.0,-1.0M370.8,522.7l0.0,2.1M377.4,522.0l-1.5,-1.4M383.1,520.3l-1.2,1.8l1.7,1.7M397.6,523.3q0.3,-3.4 -2.4,-1.3M401.2,522.8l-1.1,1.9M406.0,523.2l1.8,-1.2l0.4,1.9M411.1,523.4q2.6,4.0 4.4,-0.4M416.9,521.6l-0.6,-0.3M422.1,522.7q-3.4,0.7 -0.9,3.2M426.0,524.2l1.3,1.0M440.0,522.2q-1.6,1.8 0.7,2.6M442.1,524.1l-2.8,-0.2l1.0,-2.0M448.8,522.0l-2.1,-0.1M349.2,526.2l-2.9,-0.3M354.9,528.9l-1.4,1.8M362.2,529.1l-0.7,-0.2M363.6,526.9q3.1,0.9 1.1,3.5M374.9,526.5l-2.6,-0.6l1.0,-1.8M384.2,527.1l-1.8,1.2M392.3,528.6q2.6,2.9 4.3,-0.6M395.3,528.0l0.2,-0.7M398.5,527.1l0.1,-0.7M404.1,526.3l1.4,-2.7M412.4,525.7l0.5,0.5M415.5,527.6q-2.6,2.1 0.5,3.2M419.6,526.9l-0.5,-0.5M426.6,525.8l0.2,-0.7M430.3,527.9l0.1,-1.5M435.5,528.6l-3.2,-0.9l1.1,-1.5M441.1,525.1q2.8,0.3 2.2,-2.5M447.1,525.0q-5.1,2.7 0.3,4.5M452.0,524.9l0.7,-0.1M456.0,527.5l-2.1,1.1M352.9,530.2q0.3,2.7 2.6,1.3M358.9,532.0l2.5,-0.8M362.5,533.3q-3.5,-1.8 0.3,-3.0M370.0,530.8l-0.3,-0.6M374.4,531.3l0.8,-2.7l-1.1,-0.8M377.8,529.7l0.6,0.4M381.8,529.9q3.1,-3.6 -1.6,-3.4M388.0,531.7l-1.9,1.1l-0.4,-2.3M393.2,530.8q3.9,-2.0 3.6,2.4M397.9,530.2l-2.5,0.5M405.2,530.3q2.4,-0.1 1.2,-2.2M407.9,532.4q1.2,-2.2 -1.3,-2.2M413.2,533.6l1.5,0.7M419.6,531.6q-2.4,1.1 -0.4,2.8M425.2,531.8l1.5,1.3l0.8,-1.8M428.2,533.3q-3.2,-2.3 0.6,-3.3M434.4,529.5q4.1,3.1 -0.9,4.2M437.0,532.0q-1.3,3.9 -3.8,0.6M444.4,529.3l-0.6,-3.4l-1.4,0.7M446.1,532.4l0.9,2.5M451.7,530.7q2.5,-0.5 1.9,2.0M459.9,533.3l-1.9,-0.3M357.6,536.3q-4.5,0.4 -1.7,-3.1M360.5,534.5l-0.4,2.5M369.6,535.7l2.1,0.8M373.9,535.1l-2.0,1.2M380.2,536.1q1.1,-1.9 2.5,-0.3M384.4,534.2l0.0,0.7M391.3,534.6q2.1,2.4 -1.1,2.4M395.9,536.9q3.6,-0.7 2.8,2.9M399.3,535.9q2.0,-1.9 2.7,0.8M406.6,537.6l-2.1,-1.1M410.6,536.5l3.4,-0.0l0.6,-2.5M416.5,536.0q-1.1,4.7 3.2,2.6M418.5,535.9q0.5,-3.3 -2.7,-2.2M424.5,534.6l0.4,-0.6M439.6,534.0l-1.9,-0.0M445.4,536.8q2.9,-1.1 1.9,1.9M452.2,537.8q0.1,-2.7 -2.5,-1.7M455.1,535.9l-1.9,2.2M461.4,536.4l0.7,-2.4l2.0,0.2M464.2,537.7l-0.8,-2.0l-1.8,0.9M359.1,542.2l-0.2,2.2l1.5,0.0M366.4,540.9l3.2,-0.6l0.1,-1.7M370.9,540.7l1.2,2.8M381.5,538.9l1.0,-2.6M388.2,541.8l2.6,0.7M393.0,541.7l-0.5,2.9M398.9,538.9q2.1,-2.0 3.0,0.7M400.9,541.1l0.7,0.0M409.8,539.9l-0.4,-0.6M413.7,540.6l-2.4,0.2M417.6,539.8q-2.9,2.6 0.7,4.0M423.1,538.6l0.6,0.4M427.8,542.4l-2.9,0.0M430.9,539.1l-0.8,2.3M438.4,540.9q2.7,-0.3 1.7,2.2M444.2,541.7l0.6,-0.3M457.2,542.3l-0.5,-2.8M468.6,541.6l-2.3,-0.4l-0.2,-1.8M362.0,542.9q-2.8,0.1 -1.9,-2.6M365.6,545.5q-2.3,3.6 2.0,4.1M377.5,547.0q-3.4,2.4 0.4,4.1M382.2,545.3l2.2,-1.6l-0.7,-2.4M384.2,546.6l2.6,-0.8M388.9,546.7q-2.3,-1.3 -2.5,1.4M396.8,544.9l2.7,-1.5l-0.4,-1.9M405.0,543.4q2.3,-1.7 2.8,1.1M409.7,546.3l0.9,-2.6M414.7,545.9l-3.0,0.2M421.4,543.6q2.8,3.8 -1.9,4.1M426.9,545.8q0.9,-3.5 -2.7,-3.1M431.4,544.4l-0.5,-0.5M435.2,544.0l1.4,2.9l-2.1,1.3M438.3,543.8l1.5,-2.1M447.2,547.1q2.3,-2.1 2.8,0.9M450.1,546.6l2.2,1.5M457.5,546.4q3.9,-0.3 2.3,3.2M460.3,547.0l1.0,2.9M467.5,542.8q3.1,-1.6 2.3,1.8M366.8,549.6l0.7,0.2M374.7,547.6q-2.4,4.3 -4.3,-0.2M379.9,547.8l-0.3,0.6M384.3,551.6q0.7,4.1 -3.2,2.6M389.0,547.4l-2.3,-1.1l1.5,-2.0M392.4,549.6l1.0,-1.6M397.5,550.2q2.6,4.4 4.0,-0.5M402.0,550.1l-0.8,2.9M407.2,547.6l1.7,-0.6M411.4,551.4l-0.8,1.7M418.8,549.1q-2.2,2.2 -3.2,-0.8M423.7,547.3q-2.6,-1.9 -3.3,1.2M427.8,548.2q-3.6,1.0 -1.0,3.7M440.2,547.8q3.6,-0.2 1.5,2.7M440.8,549.2l1.4,1.7M448.9,550.3l-0.2,-0.7M452.9,547.9l-0.1,0.7M456.4,551.7l1.6,-1.9l-2.1,-1.1M462.2,547.3l2.6,-0.0l0.5,2.3M370.7,552.5q1.3,-5.3 -3.6,-2.8M375.2,553.9l-0.1,-0.7M379.3,551.9l0.2,-2.5l-2.3,-0.4M389.5,551.8l-3.3,-0.5l0.3,-1.8M395.3,556.0l1.1,-2.9M398.9,552.7l1.2,2.6M416.8,555.2q-2.9,4.3 -4.0,-0.8M421.7,554.9l2.6,0.8M429.1,554.6l-2.3,-1.4M435.1,555.2q-2.9,-1.9 -3.0,1.6M439.3,553.6l1.4,-2.8M446.8,555.5l0.4,1.6M451.8,553.1l1.8,-2.0l-1.5,-1.6M454.8,554.8q3.2,-3.8 3.9,1.1M459.7,553.3l1.2,1.8M375.1,560.5l-0.7,0.2M376.2,559.0l1.9,-2.3M384.9,556.7l-2.5,0.8M389.6,557.3l0.6,-1.5M393.5,556.8q-3.0,-0.7 -0.6,-2.6M397.5,559.7l0.4,-0.5M402.2,557.8l1.6,-2.0l-1.2,-2.1M410.0,560.7q5.3,-2.5 3.4,3.0M415.0,556.9l-0.3,-0.6M420.2,559.0q4.3,-1.6 3.2,2.9M424.6,558.0l1.6,0.3M429.9,557.6l2.7,-0.4l-0.7,-1.6M438.0,558.9l-0.6,2.1l2.2,1.0M442.7,560.7l0.7,-0.2M447.4,559.4l-1.5,-2.2M454.2,557.1q0.2,2.8 2.5,1.1M378.7,564.0l2.3,-1.0M386.1,561.6q-0.6,-2.9 -2.8,-0.9M392.2,563.8l-0.5,0.4M402.7,564.9l0.5,-2.6l1.5,-0.2M407.0,564.2l-0.8,1.8M410.6,564.1l0.4,-0.6M415.8,560.9l-1.4,-2.7M425.1,563.2q-1.2,3.7 2.4,2.2M431.4,561.6l1.8,-1.0M436.0,565.2q-4.5,-0.2 -1.3,-3.4M440.2,562.6l-0.7,0.2M381.5,567.9q1.5,-3.6 -2.4,-3.2M388.9,566.1l2.5,-1.5M392.9,565.4l-0.5,-1.8M401.6,568.9l-0.1,-2.5l-2.0,0.7M409.1,567.0q-4.5,-0.6 -1.6,-4.1M413.8,568.5q-1.9,-4.1 -4.2,-0.2M416.1,567.5q-1.2,-3.4 -3.5,-0.5M421.0,568.9q-4.3,-0.9 -0.7,-3.4M425.9,567.1l0.7,-0.0M433.0,567.8q-2.0,1.3 -2.4,-1.1M438.4,566.5l-1.7,0.4M385.1,570.9q-3.8,-0.1 -2.7,3.5M388.8,571.8l-2.1,-2.2M396.5,571.9l-2.1,0.1l0.5,1.7M406.6,571.7l1.2,-2.1l1.6,1.7M408.4,572.4q-3.6,1.0 -2.3,-2.5M414.8,572.0l1.3,3.1l1.9,-0.1M421.7,570.3q-3.9,0.0 -1.3,-2.9M424.1,573.7l-0.7,2.7l2.4,0.1M429.1,573.0l-0.8,-2.5l1.3,-0.9M391.4,575.9q2.8,-2.6 -0.7,-4.0M397.2,576.3q-1.0,5.2 -4.4,1.2M401.0,574.8l0.7,0.2M408.0,578.6q0.3,3.6 -2.9,1.9M414.0,578.7l-2.8,-0.2l-0.3,2.5M420.2,576.8q4.7,-2.5 3.5,2.7M421.8,577.2q4.1,2.9 -0.8,4.0M428.1,575.3l-2.2,-0.8l-1.3,2.0M432.3,574.6l0.0,-2.3l2.2,0.3M397.0,582.9l-0.6,0.3M399.7,579.9q-0.8,-3.5 -2.9,-0.6M404.4,579.0l-1.4,2.4l-1.1,-1.0M411.3,580.5q-3.3,0.8 -1.6,-2.1M417.5,578.9l3.0,2.0l-0.8,1.3M420.7,581.4q-0.5,-3.7 3.1,-2.7M398.2,585.9l-0.6,2.4M404.7,585.6l-0.6,2.4l1.4,0.5M408.9,587.5l0.6,-0.3M414.6,585.7l-0.5,-0.5M416.6,585.1l-1.0,2.0M401.9,590.4l-0.5,2.4M404.8,591.2l0.4,1.8M411.1,590.2q-1.6,5.8 -4.6,0.6" fill="none" stroke="#303030" stroke-width="1.25" stroke-linecap="round" stroke-linejoin="round"/>
<path d="M197.3,381.8 L412.5,611.0" fill="none" stroke="#1c1c1c" stroke-width="1.7" />
<path d="M206.7,376.7 L421.0,607.8" fill="none" stroke="#1c1c1c" stroke-width="1.7" />
<path d="M288.3,357.5 L473.7,544.7 L502.0,571.3" fill="none" stroke="#1c1c1c" stroke-width="1.7" />
<path d="M284.2,331.7 L503.7,546.7" fill="none" stroke="#1c1c1c" stroke-width="1.7" />
<path d="M291.7,326.3 L511.0,542.0" fill="none" stroke="#1c1c1c" stroke-width="1.7" />
<path d="M412.5,611.0 L421.0,607.8" fill="none" stroke="#1c1c1c" stroke-width="1.7" />
<path d="M503.7,546.7 L511.0,542.0" fill="none" stroke="#1c1c1c" stroke-width="1.7" />
<path d="M412.5,611.0 L422.6,719.4" fill="none" stroke="#2e2e2e" stroke-width="1.7" />
<path d="M421.0,607.8 L430.0,714.2" fill="none" stroke="#2e2e2e" stroke-width="1.7" />
<path d="M503.7,546.7 L502.5,658.3" fill="none" stroke="#2e2e2e" stroke-width="1.7" />
<path d="M511.0,542.0 L510.4,652.5" fill="none" stroke="#2e2e2e" stroke-width="1.7" />
<path d="M473.7,544.7 L407.0,593.5" fill="none" stroke="#1c1c1c" stroke-width="1.7" />
<path d="M502.0,571.3 L424.3,628.0" fill="none" stroke="#1c1c1c" stroke-width="1.7" />
<path d="M473.7,544.7 L424.3,628.0" fill="none" stroke="#1c1c1c" stroke-width="1.4" />
<path d="M502.0,571.3 L411.0,593.0" fill="none" stroke="#1c1c1c" stroke-width="1.4" />
<path d="M677.8,335.7l-0.3,0.6M685.2,334.7l3.2,-1.1l1.0,2.3M688.6,335.1q-1.3,-2.9 -2.7,0.0M672.0,338.7l1.7,-0.9M680.2,339.3l-1.6,1.6l1.3,1.9M681.4,340.2l3.0,0.5M689.7,337.4l-2.3,-1.3M669.1,344.6l-1.2,-2.4l-2.2,0.9M676.6,340.9q-1.2,2.9 1.8,2.2M681.5,344.2l0.7,0.3M684.8,344.8l0.4,0.6M689.4,341.1l-0.3,-2.6M703.6,342.9l-3.2,-0.1l0.1,1.5M716.3,343.5l-0.1,-2.1l-2.0,-0.6M657.3,349.0q-2.4,4.3 -3.9,-0.4M664.0,346.6l-1.1,-1.5M666.3,345.8l-0.1,0.7M672.3,348.6q-2.7,0.3 -1.7,-2.2M677.1,348.4l-0.7,-0.3M685.5,348.3q-4.0,-0.6 -1.8,2.8M699.2,345.9l-1.7,-1.2l-1.2,1.6M705.2,348.0q-2.4,-4.4 2.5,-3.3M710.2,349.4l-1.7,1.9l1.5,1.6M712.2,348.3l-2.9,1.6l1.6,1.9M718.6,347.7l1.9,-2.4M724.4,348.3l2.2,-1.3l1.2,1.9M654.3,350.6q2.8,4.6 4.1,-0.6M659.3,352.5l-3.1,-0.4M667.1,349.7q-0.1,-4.5 -3.8,-1.9M669.9,350.7l-1.4,2.0l1.6,0.4M674.0,349.6l0.1,2.0M685.6,350.2l-0.2,2.9M691.8,350.7q1.4,3.5 3.8,0.5M694.0,353.9l-3.0,0.2M699.7,353.0l-0.3,2.3M704.8,352.1l0.4,2.3M710.3,351.6l1.4,2.3M716.4,352.6l-3.0,-0.3M720.9,351.6l-0.5,0.5M725.4,353.2l-1.5,-1.1M658.5,358.3l-1.3,1.1M664.6,357.0l1.8,3.0l2.3,-0.9M667.0,358.4l-0.7,-0.1M675.4,356.5l0.0,0.7M676.2,356.0q-1.8,-1.9 -2.9,0.4M681.5,354.1q0.6,5.2 4.2,1.3M688.5,356.7l-1.3,1.9M696.8,354.5l0.0,-2.9l1.7,0.0M701.2,357.2l-0.4,1.7M710.1,356.2l1.0,-1.5M715.0,355.1q3.1,2.9 3.1,-1.3M720.2,357.2l2.9,0.9M727.1,358.4l1.4,2.9M639.8,361.1l1.4,2.7M646.4,361.3l-0.6,1.9l-1.7,-1.4M648.8,358.7q-2.2,3.1 1.5,3.6M656.6,362.7l-2.7,2.1l2.0,1.6M659.7,361.6q-0.5,3.9 3.3,3.0M666.9,359.3l-2.4,-1.9M670.9,359.9l-0.4,0.6M677.7,362.6l-1.6,-1.1M679.0,358.7q-4.8,2.7 -3.6,-2.7M684.2,358.8l2.7,1.6l1.6,-2.0M689.5,359.4q-1.2,3.2 2.2,2.9M695.5,359.2q-1.8,3.8 -4.3,0.4M702.5,360.6q-5.3,-0.1 -1.8,-4.1M705.0,363.0l1.7,1.2l-1.3,1.0M709.4,360.8l-0.7,-0.0M713.7,360.5q-2.3,3.9 2.2,3.9M727.6,359.4l2.1,-2.6l-0.9,-1.3M729.1,360.2l-0.4,-0.6M636.2,367.4l-2.8,1.4M643.3,366.9l-2.4,0.6M649.2,365.6l-0.3,0.7M651.1,363.8l0.7,-0.1M657.2,367.3l-2.7,-1.3l1.3,-1.2M665.1,364.5l1.4,2.1l-1.8,1.1M667.2,367.3q0.9,2.5 -1.7,1.9M671.6,366.9q2.2,1.4 -0.2,2.5M677.5,363.5l-0.3,-0.7M689.1,366.7q-5.5,-0.4 -2.2,4.0M692.1,364.6l0.8,3.0M700.2,364.5l-2.7,0.7M705.0,366.3l0.4,-0.6M706.9,366.1l2.6,-0.2l-0.3,1.7M716.8,366.9q-1.7,2.2 -3.0,-0.3M721.4,366.3l3.0,0.2M726.7,366.3q-2.3,3.3 1.6,4.1M631.2,371.8q-0.4,2.7 2.2,1.7M636.6,369.6l-1.2,-2.6M638.7,368.6q1.0,-4.0 4.1,-1.3M645.5,369.2l-0.7,-0.0M652.1,369.2q-1.0,3.0 -3.3,0.8M655.9,367.9l-1.1,-2.0M659.2,371.5l0.6,-0.3M667.9,368.8l0.6,0.3M671.7,367.7q-0.6,4.4 3.5,2.8M677.2,367.6l-2.3,2.0M681.5,372.0l-1.6,-1.6M687.6,370.1q-0.7,2.4 -2.4,0.6M690.9,370.8l1.0,-1.3M695.9,368.2q-3.4,2.9 -3.8,-1.5M705.4,370.2l0.2,-0.7M710.5,370.0l0.7,0.1M717.1,368.4l-2.1,-1.2l0.9,-2.3M722.7,368.1l-1.9,0.2M726.0,369.5q3.1,-2.4 3.5,1.5M622.7,375.3l-0.3,2.7l2.4,0.1M627.1,376.5l-2.4,-2.0l-1.2,1.2M632.1,372.5l-0.3,0.6M636.1,374.3l1.3,2.0l2.3,-0.8M642.5,372.5l0.6,1.9M650.4,373.7l0.0,-1.6M655.0,373.5l1.4,3.3l-1.8,0.7M658.9,374.7l1.3,-1.5l-1.6,-1.6M661.2,376.4l-1.0,-1.4M669.8,376.4l0.6,-1.4M673.7,372.5l0.9,-1.4M678.4,375.4l-0.6,-2.0M681.8,372.4l-0.2,0.7M690.1,375.3q2.2,-3.9 -2.1,-2.8M692.2,375.7l0.6,-0.4M697.9,373.7l-1.7,-1.7M704.6,373.7l-2.8,0.1M708.0,375.9l0.4,-2.5l2.0,1.2M713.6,376.5q-3.2,-2.0 0.4,-3.2M719.3,375.8l1.5,2.2M722.5,372.2l3.1,-0.1M617.0,378.5q1.9,-3.0 3.3,0.3M622.2,377.8q3.1,-2.6 3.8,1.4M625.8,378.1l1.4,2.7M636.0,377.0l-1.4,2.1l-2.2,-1.2M639.2,377.6l-0.2,3.3l-1.8,-0.5M645.4,380.2q0.8,-5.2 4.2,-1.1M655.9,376.6l-1.6,1.7M662.3,377.5q-5.0,-1.9 -3.0,3.1M666.5,380.4l2.2,-0.1M669.4,380.0l-1.0,-1.7l-1.6,0.7M676.5,379.4l-0.4,-1.5M688.0,379.9q-1.4,-4.5 -4.4,-0.8M689.5,379.0l0.3,-0.7M696.3,376.9q-1.4,4.2 2.9,3.1M699.3,380.7l-2.6,0.2M705.4,378.3l-0.4,2.5M710.9,378.5l-1.9,-0.0M716.1,379.5q4.0,-2.2 -0.1,-4.1M609.0,383.9l-1.7,-1.0l0.4,-1.4M612.9,382.5l1.0,-2.3M616.7,384.0l0.2,0.7M622.2,383.1q1.4,2.7 2.7,-0.0M627.8,384.7q-3.0,2.4 -4.2,-1.3M633.7,383.3q-4.0,-0.5 -1.1,-3.3M639.1,381.3l2.6,1.2M644.3,381.5q-3.1,-1.8 0.4,-2.9M648.7,382.3l0.8,1.1M653.6,383.7l-1.7,-0.6M658.7,382.9q0.1,-3.9 3.5,-2.1M665.2,382.0q-4.3,0.8 -2.9,-3.4M667.4,381.4q-3.9,-3.1 0.9,-4.3M673.0,384.8l1.8,2.2M676.3,381.9q1.8,-2.9 -1.6,-3.5M681.8,384.4q0.9,3.6 -2.6,2.4M687.9,384.7l0.4,2.5l-2.5,-0.4M693.4,382.8l0.3,-1.8M698.1,384.9l-0.2,3.5l1.5,0.3M705.2,384.7l-0.1,-0.7M709.1,381.5q-1.3,-3.6 2.4,-2.5M610.9,386.4q2.3,-1.1 2.1,1.5M618.0,389.4q4.1,0.6 1.5,3.9M620.4,386.6l-0.1,3.4l2.2,-0.7M627.0,389.1l-1.5,1.4l1.7,1.9M632.1,387.6q-2.4,1.6 -2.2,-1.3M643.6,385.8l-2.0,-0.7M651.5,388.4q-1.0,-2.9 2.0,-2.1M657.8,388.1q0.4,3.7 3.0,1.1M660.5,388.5l-1.2,2.3M666.1,385.8l-2.1,1.0M670.3,386.9l-0.2,-2.5M679.6,386.5l0.2,1.8M685.8,389.2l2.9,0.7l-0.8,2.0M693.0,389.6l-1.5,1.5M698.0,385.9q0.6,-4.0 4.1,-1.8M699.2,387.0l-0.2,0.7M704.6,387.8l2.9,0.3l0.1,-1.6M598.8,392.8l2.2,1.9l1.3,-2.0M603.4,392.3l-0.3,-0.6M606.3,390.6q-2.9,1.5 -2.6,-1.8M611.1,390.4l1.3,-1.4M618.6,393.2q-2.6,0.4 -0.9,2.4M622.4,391.0q3.4,-0.8 1.6,2.2M627.5,390.1l-0.2,-2.6M632.1,393.2l-1.8,0.2M637.5,390.3q2.7,3.7 -1.8,3.9M643.2,392.8q0.3,3.5 3.4,1.9M650.1,391.1q1.9,2.7 3.0,-0.4M653.3,393.3l-1.5,-0.8M657.1,394.4l2.4,0.3M674.4,394.3l-2.3,-2.4l1.6,-0.8M682.5,392.8l0.1,-2.2l-2.4,0.8M690.3,392.9q5.0,0.1 1.8,3.9M695.3,391.1q4.0,0.4 2.8,-3.5M697.7,391.0l-0.2,0.7M591.3,395.3l0.1,0.7M597.6,395.1l-1.6,1.0M609.2,395.1q-3.8,0.4 -1.4,3.4M613.7,396.2l-1.7,0.8M619.6,396.1l-1.0,-1.8l-2.4,0.9M626.5,395.6l2.2,-1.3l1.2,1.9M632.8,398.6q-4.1,1.6 -2.9,-2.6M636.0,394.9q1.8,-2.9 -1.6,-2.8M642.1,396.9l-2.5,-0.8l1.5,-2.0M647.8,395.4l2.3,1.3M648.8,396.6l-0.4,-2.7M657.9,395.9q-4.8,-1.9 -0.2,-4.3M660.5,394.9l-2.3,-2.1l1.6,-1.0M666.5,395.1l0.6,-0.3M669.3,396.8q0.8,-3.1 -2.2,-2.1M680.9,397.2l0.4,2.8M686.7,397.9l0.2,0.7M582.4,402.6q2.7,-0.7 2.3,2.1M598.1,402.8l1.6,-2.5l1.3,0.7M602.5,399.1l-0.6,0.4M613.8,399.1q1.7,2.7 -1.5,3.0M616.1,402.2l0.5,0.5M624.9,403.3l-2.1,-0.6l1.5,-1.7M627.4,401.4l0.7,2.1l1.5,-0.6M635.4,400.5l-0.1,0.7M636.1,400.4q4.5,-2.3 -0.1,-4.3M646.7,403.1l2.3,2.0M654.7,400.9q0.4,3.9 -3.3,2.7M662.9,402.3l2.5,0.7M668.1,403.0l-0.4,-0.6M675.4,403.0l-2.0,1.5M678.3,399.5l-2.6,0.6l-0.6,-2.0M684.5,400.0q3.2,-0.5 1.3,-3.2M577.7,406.9l0.3,2.1M583.9,404.4q3.0,3.0 3.8,-1.2M590.2,407.0l3.1,-0.1M595.7,407.5l-0.6,-0.3M598.9,404.8l1.2,-2.5M603.9,405.1q-4.2,-1.3 -0.9,-4.2M610.9,405.3l-0.6,1.7M614.7,407.2q3.4,2.1 0.1,4.4M619.3,403.8l-1.9,2.4M626.3,406.6q-0.0,3.8 -3.4,2.0M633.0,406.3l-0.5,-1.6M635.0,406.8l0.2,2.1l-1.4,-0.2M639.6,406.8l-0.7,-0.2M643.9,404.7l0.7,-2.3M650.5,406.9l-1.3,2.8l-1.9,-1.2M654.0,408.0l-2.8,1.5M660.6,405.6q2.8,1.4 0.1,2.9M671.5,406.4l-0.6,-0.3M674.5,403.9l-1.6,1.7M572.9,412.0l-0.8,1.2M577.3,409.3l-0.6,2.3l1.8,0.6M582.4,412.2l0.3,-0.6M590.4,408.4l0.9,1.6M596.9,411.6q1.1,2.8 2.5,0.1M603.1,410.4q0.3,-3.7 3.0,-1.1M612.7,409.6l0.0,-0.7M622.7,412.0q-1.3,-3.0 -3.2,-0.3M629.7,408.5q0.2,-2.3 2.2,-1.2M633.9,408.6q0.6,2.3 2.5,0.9M642.5,408.7l0.1,2.8l-1.9,0.7M654.5,408.2q1.0,2.9 -1.9,1.9M658.8,410.2l0.9,1.1M665.1,412.0q5.1,0.7 2.5,-3.7M671.5,410.7q-3.9,-2.8 -3.3,2.0M560.6,415.7l-0.7,0.1M564.8,413.3l-0.7,-0.2M571.2,413.7l1.4,-1.0M575.9,415.8l2.9,0.9l-0.4,1.6M581.6,415.6l-2.8,1.4M585.9,413.0l-1.0,-3.2l-1.4,0.5M590.5,413.2l-1.6,2.4M593.7,413.5l-0.6,0.4M599.9,414.9l-0.6,0.4M605.4,416.1l-0.4,0.6M612.7,412.6q-2.9,-1.7 0.1,-3.3M616.4,413.0q3.9,2.0 -0.1,3.8M619.6,416.0l2.1,-0.0M627.1,413.7l1.6,-2.2M629.9,413.8l0.5,-2.6l2.4,-0.1M635.9,415.4q3.6,1.2 0.9,3.9M640.1,415.0l-3.5,0.1l0.2,-2.2M643.6,413.9l0.6,1.8M649.0,415.4l-0.7,-0.1M655.2,415.5l-1.4,-1.5l1.8,-1.8M554.4,419.7l3.1,-0.8M556.8,420.5l-0.9,2.5l-1.4,-0.3M563.6,418.5l-0.6,0.4M568.7,420.3l-3.3,-0.9l-0.2,2.4M571.4,417.6q-4.3,2.3 -3.4,-2.5M576.6,419.0l-0.8,2.2M581.5,418.1q-5.4,0.7 -1.2,4.2M596.4,418.1l0.6,0.4M602.1,420.5q-1.9,2.8 -3.7,-0.0M608.5,419.3q-1.8,3.3 -3.1,-0.2M614.5,420.8l2.4,0.2M616.2,419.8l0.4,-2.6M622.1,421.5l-0.7,-0.1M627.3,421.4l2.0,0.5M641.3,420.1q-1.8,2.5 1.3,2.6M649.8,418.2q-3.1,-1.5 -0.1,-3.1M653.9,418.5l-2.0,-1.0l-1.0,2.0M657.1,420.7l-2.1,1.6l1.5,1.5M547.5,423.9l-1.4,-1.5M554.9,424.1l-0.2,2.4M566.8,425.8l0.1,-0.7M571.4,421.7q1.8,4.4 -2.6,2.6M575.8,424.6l-2.9,0.3M581.8,423.4l2.4,1.0M586.8,422.4q-2.5,3.3 -3.5,-0.7M590.5,424.9q-3.0,-1.4 0.0,-2.8M595.3,425.5l0.0,0.7M602.3,425.7q-1.6,2.5 -2.9,-0.2M607.8,425.5l-1.3,2.3M608.8,424.5q3.3,0.4 1.3,3.1M617.9,422.0l-1.3,-2.0l-1.6,1.6M620.8,422.1q2.6,1.1 0.6,3.1M624.3,423.7l1.0,1.1M630.5,422.2l2.5,1.7l-1.5,2.0M635.2,421.8l-1.5,-2.1l1.4,-1.9M642.1,424.2q-0.2,-4.7 -3.5,-1.3M644.9,422.0q-1.7,-3.1 1.8,-2.5M649.4,425.5q-0.3,3.7 -3.6,2.0M657.3,422.3q4.1,0.2 1.5,-3.0M539.1,430.1l0.3,3.0l-2.4,0.2M544.3,430.2l-2.0,-2.1M550.3,429.8l-0.8,-1.5M565.2,429.9l-1.9,0.7M573.8,429.3l-2.9,-1.9l1.9,-1.7M580.2,430.0l1.5,-0.8M587.5,426.3l2.0,-1.8l-0.9,-1.5M592.4,427.8l-0.6,-0.3M597.6,426.7l0.7,0.2M602.8,427.7q1.8,-3.2 3.2,0.2M607.0,429.5l-0.6,-0.3M613.5,429.3q-1.0,-4.3 3.1,-2.5M623.4,428.8q-2.1,-3.5 -3.1,0.4M629.8,429.4l-1.7,-2.3l2.1,-1.4M631.4,429.9q-0.2,-4.6 -3.9,-1.8M637.8,426.3q-1.9,-2.1 -3.1,0.5M641.2,429.0l-2.7,-0.3M647.5,426.3l-1.5,2.7l-1.3,-1.6M536.7,433.9l1.6,1.5l1.4,-0.8M539.9,431.8l-3.2,1.2l-0.9,-1.2M550.3,432.2l0.2,-0.7M553.6,434.8l0.7,-2.3M561.9,433.8l0.6,0.4M563.8,434.2l-2.0,-2.0M575.4,434.4l-1.0,1.0M579.2,431.2l-3.0,0.3M586.4,432.9l-0.6,0.3M595.3,434.4l-0.5,-1.8M598.9,434.5q-2.4,-2.1 0.7,-2.6M611.2,430.6l-1.6,-1.6M613.6,430.8q3.2,-1.1 0.3,-2.8M622.0,432.3q1.8,3.4 -2.0,3.1M623.9,432.3l0.8,-2.4M631.6,432.4l-1.8,-0.4M639.3,430.7l0.4,-0.6M529.8,437.1q4.1,-1.6 2.8,2.6M532.7,435.9q2.7,-3.0 4.4,0.7M539.6,437.1q-3.6,-3.8 -3.9,1.4M543.9,437.3l0.7,-2.4l1.2,0.8M546.4,435.5l1.5,1.6M553.9,438.7q3.7,-1.0 0.7,-3.3M556.8,438.1l2.3,-0.1l0.2,1.6M562.7,437.4l3.0,-0.8M566.4,438.7l-0.7,-0.0M574.3,438.1q-1.3,3.5 -3.5,0.5M580.0,435.3l0.5,0.5M584.4,436.1q-1.5,-3.1 -3.4,-0.2M587.9,439.0l-2.7,-0.6l-1.1,1.8M592.1,439.5l2.0,0.6M603.7,437.0q0.7,3.0 3.3,1.4M607.4,437.0l0.6,0.4M611.6,437.6q-1.1,-2.9 -3.0,-0.5M619.8,437.0q2.8,-3.6 3.5,0.9M623.4,438.4q4.7,-0.3 1.7,-4.0M627.4,435.1l1.3,-0.8M634.4,436.0l1.6,-1.1M527.1,440.3l2.8,-0.7l-1.5,-2.1M529.3,441.1l-1.2,-1.4M537.0,443.9l0.6,-0.3M542.6,440.4l-1.7,-2.9l-1.2,1.2M550.2,439.8l0.7,-0.2M557.5,443.7l2.7,2.3l-0.5,1.5M559.7,441.5l-1.1,-1.8M567.0,442.1l-1.4,1.7M569.6,440.9l1.0,-1.2M574.1,441.5l2.2,-1.0l-0.1,-1.6M579.4,440.7l0.4,1.6M585.0,440.9l-1.7,-1.0M591.6,440.2l2.5,-1.3M597.8,443.8l2.3,1.4M599.3,440.3l0.5,0.5M606.0,443.7q1.4,3.5 -2.3,2.7M612.3,440.0l0.5,0.5M615.6,442.3q-0.7,3.6 -3.7,1.5M624.7,440.4q-2.6,2.3 -3.7,-1.0M629.4,441.0l-1.1,1.7M520.2,448.2l2.0,-1.8M521.5,446.1l-1.9,0.9M529.1,447.1q2.7,2.2 2.9,-1.3M531.5,445.5l-2.1,-1.8l1.2,-0.9M540.5,444.7l0.0,-0.7M541.8,448.3q3.2,-1.1 2.1,2.1M549.3,448.0l-0.7,0.0M555.4,444.9q1.1,-3.8 -2.6,-2.2M556.7,446.7l-2.4,2.0M563.6,446.3l3.3,0.4l-0.3,-1.6M569.8,446.5q-1.8,-2.1 -2.7,0.5M573.8,445.1l-0.4,0.5M584.0,446.5l-1.3,2.2l-2.1,-1.4M588.1,448.5l-0.4,1.7M595.4,446.1l0.9,-1.1M600.4,446.8l2.7,0.6M605.1,445.8l0.6,0.4M607.8,445.0l-0.6,0.3M611.3,447.5l0.7,0.2M619.6,444.4l-0.8,-1.4M622.3,446.1l-0.5,-0.5M512.8,452.7q5.1,2.3 3.2,-2.9M516.8,449.6l-1.6,-0.0M518.7,449.8l0.7,-0.1M526.0,451.6q-2.1,-3.0 1.5,-3.6M537.3,452.9q1.0,-4.4 -2.9,-2.2M541.1,448.9l1.8,-1.3M544.4,449.6q1.8,3.6 -2.2,3.8M553.8,452.6l-1.1,2.4M558.7,449.9l-0.4,0.6M567.4,451.0l-2.3,-2.5l-0.8,1.6M572.8,449.7l-1.7,-2.4M578.0,452.2l-2.2,-0.4M582.3,449.4q-2.8,-0.1 -2.0,2.5M584.3,449.4q0.7,2.1 2.4,0.7M589.7,452.2l-0.4,-3.1l-2.2,-0.6M594.2,449.3l0.1,-0.7M600.7,450.9l-0.4,-3.2l2.1,-0.4M608.0,451.7l-2.8,-1.1l-0.4,1.5M609.3,449.6l-0.5,-0.5M614.6,450.0l1.9,-2.0M507.7,454.4q3.0,3.0 3.8,-1.2M511.1,455.1q-1.7,2.8 1.5,2.7M517.0,456.4q2.4,2.5 -1.0,2.9M522.1,455.4l-1.6,2.7M528.3,457.4l-1.7,2.6M534.5,455.6q-2.2,0.7 -0.9,2.6M538.0,453.5q-1.9,-3.0 1.7,-3.0M544.8,456.1l-1.1,-1.1M547.2,455.0q-1.9,2.7 -2.9,-0.4M555.1,456.5q-1.0,-2.8 1.9,-2.3M560.1,453.1l1.1,1.6M564.2,455.8l-0.5,-3.4l-2.2,0.8M566.6,457.0l-2.8,-0.2l-0.9,2.4M574.9,453.8q-3.7,-2.9 0.9,-3.7M578.1,453.4q5.2,-0.8 1.2,-4.2M584.2,457.5q-3.6,1.7 -0.7,4.4M589.4,454.4q4.7,-2.1 -0.0,-4.0M595.5,457.4l-2.4,1.3M597.8,454.9q3.6,0.6 1.8,-2.6M601.4,456.4q2.7,-1.4 0.2,-3.2M609.7,455.4l0.7,-0.2M498.0,460.2l1.8,0.9M500.5,458.2l1.1,-1.0M506.0,458.6q3.5,-2.6 4.2,1.7M511.4,459.9l2.1,1.5l-1.9,1.7M515.3,459.1q0.3,-4.7 3.6,-1.4M519.5,458.8q3.2,0.7 2.6,-2.6M525.0,460.2l1.1,2.9l1.6,-1.2M530.9,458.9l-0.4,1.4M539.2,460.5l1.7,-1.0M547.5,458.3q3.2,-2.4 -0.7,-3.3M554.4,457.9q-4.5,0.5 -2.6,-3.6M562.0,460.2l0.3,-0.6M573.0,460.2l-2.2,-0.2M576.3,458.5l-2.8,0.1l-0.3,-1.9M587.0,461.9q-1.3,-2.1 -2.7,-0.0M589.8,461.8q-4.1,-0.5 -1.5,-3.7M598.0,459.5q-3.4,3.7 1.6,4.0M602.7,458.0q-1.0,3.6 2.7,2.9M487.9,466.0l-1.1,2.6M491.8,464.6q-3.1,-1.3 -0.3,-3.1M496.8,464.5l1.9,1.3M504.3,463.7l-0.2,3.3l-1.7,-0.4M506.4,463.7l-1.6,2.3l1.1,1.5M512.8,464.5l-0.7,-0.2M521.2,465.0l0.7,-0.1M529.1,464.9l-0.9,-2.4l-1.4,0.3M534.8,463.1l1.9,-2.0l-1.3,-0.5M540.2,462.9l0.6,-0.4M541.5,464.1q-0.1,2.7 -2.3,1.3M547.4,465.7l-0.7,1.7M554.7,464.2l-1.3,-2.6l-1.5,1.3M556.2,463.9l-2.9,0.7M566.3,463.2l0.2,2.9M571.3,466.0l-1.6,-0.6M576.2,462.4q-1.1,2.7 -3.2,0.6M584.3,463.5q-0.5,-3.7 -3.3,-1.3M589.5,464.7l1.1,0.9M591.2,464.5l0.7,1.6M600.1,464.6q-2.9,2.0 -3.2,-1.5M481.5,470.5l0.5,-0.5M485.2,468.1l0.0,0.7M492.5,469.2q2.4,2.6 -1.1,3.5M506.8,470.6l2.6,1.4M512.9,468.4q4.1,2.4 3.4,-2.3M514.6,466.8q-3.2,1.3 -0.4,3.2M522.8,470.7l-1.0,3.4l-2.3,-1.2M532.0,470.0l-1.7,-1.4M534.1,466.9q3.0,0.8 2.3,-2.3M542.0,470.6q-2.5,-1.4 -0.1,-3.0M547.7,467.2l0.5,-0.5M548.6,471.0l-1.9,1.0M555.3,469.0l0.7,-0.0M559.1,468.9l2.9,-0.1l-0.4,-1.5M566.8,468.6l0.2,0.7M572.7,469.3q1.5,3.7 -2.5,3.6M577.2,470.5l-2.1,-0.4M581.5,469.5l2.7,0.5M584.7,467.5q4.4,1.1 2.9,-3.2M590.0,468.0l1.8,1.4l-2.1,1.2M475.3,474.9q1.1,-3.0 3.5,-1.0M480.1,474.1l-0.4,0.6M482.8,474.3l-1.8,1.3l1.2,1.8M487.2,473.0l1.8,-1.2M493.9,473.7q-2.6,2.1 0.3,3.9M501.5,473.0q1.5,-3.7 -2.2,-2.2M506.7,474.4l-0.2,0.7M512.0,471.9q-0.5,3.2 2.6,2.0M517.8,474.6l2.1,-1.8M525.3,472.1l1.3,3.2l1.4,-1.2M527.3,473.5l-1.8,-0.3M533.8,471.6l1.9,1.2l-0.4,1.6M538.4,472.0q-2.6,0.4 -1.8,-2.1M544.6,472.5l0.6,-2.7M550.4,472.2l-2.9,-0.5l0.2,-1.4M552.4,474.0l-1.8,1.7M557.6,471.6l-3.0,-0.4M561.8,475.2l2.8,-0.8M566.8,474.2l-0.2,2.2M572.5,475.0q4.1,-1.5 2.3,2.5M585.1,475.5l0.1,-0.7M480.6,477.8l-1.4,0.4M487.9,476.8q1.7,2.2 2.7,-0.4M490.2,478.2l-0.1,2.2M494.8,477.3q-3.2,3.1 1.2,3.4M499.6,479.1l-0.1,-1.6M507.2,476.5l-2.9,-1.7l-1.4,2.1M509.8,477.6l-2.5,-1.3l1.2,-1.2M515.7,477.0q1.0,5.5 4.4,1.0M519.6,479.8q3.2,1.3 0.1,2.7M524.4,479.9l-3.0,1.3l-0.4,-1.4M532.5,478.4l-2.2,0.3M542.7,479.1l0.8,-1.8M543.6,476.2q-4.1,-2.9 0.7,-4.4M556.3,479.3q-1.7,-2.6 1.4,-2.4M559.8,477.2l0.7,0.1M567.0,477.0l2.4,-1.1M572.7,476.9l-0.3,0.6M574.2,476.3q2.2,4.1 -2.4,3.6M583.0,477.3l1.6,1.5M485.1,482.5q-4.1,-1.1 -2.0,2.6M486.7,484.3l0.3,0.6M499.5,484.2l-0.1,-0.7M505.2,481.7l-2.2,2.1M508.0,484.4q-2.5,-2.8 -3.2,0.9M514.8,484.4q0.9,2.2 2.5,0.4M518.6,482.1l-0.7,0.1M522.9,480.9q-2.7,0.6 -1.1,2.8M526.1,484.4q-4.3,1.4 -2.3,-2.6M535.3,483.0l2.0,-1.0M538.6,481.5l-0.6,-0.3M543.1,481.9l1.5,0.0M550.0,484.0q-3.0,1.2 -0.2,2.8M551.6,484.2l2.7,-0.0M559.7,484.5l-0.3,0.6M564.2,480.6l-0.6,2.1l-1.5,-0.4M575.4,480.2q-2.7,0.8 -1.8,-1.8M492.3,485.4l-2.9,-0.7M494.2,488.1l2.0,-1.7M501.5,487.6q-3.1,1.5 -0.5,3.7M505.1,488.3q4.4,-0.9 2.4,3.1M508.7,487.0l-0.7,-0.1M520.0,485.3l-0.0,3.1l2.1,0.1M527.5,485.0l0.2,-0.7M529.4,485.6q-2.2,-1.4 0.2,-2.6M536.3,486.2l-0.4,0.5M542.9,488.0l-2.2,2.1l-1.1,-0.8M545.9,487.7l2.5,-0.4M552.4,489.0l-0.3,-2.3M554.2,488.0l0.7,0.2M566.2,486.5l-1.4,0.0M494.7,492.1q0.4,-3.7 3.2,-1.3M498.9,490.6l-0.9,-2.8M502.9,492.8l-0.0,0.7M508.5,490.2q-1.9,1.5 -2.5,-0.8M513.3,492.5l2.4,-1.0l-0.8,-1.9M518.3,492.0l0.6,-1.4M523.3,493.3l0.0,0.7M528.4,491.1q-2.4,-0.9 -0.6,-2.7M533.8,492.9l-1.1,0.9M540.4,490.9l0.7,0.0M543.3,492.8q-2.4,1.9 0.4,3.3M550.3,492.8l0.2,0.7M551.6,492.5q1.2,3.5 3.6,0.7M559.0,490.2q-1.8,2.4 -2.6,-0.5M501.8,495.6q-0.7,-3.9 3.1,-2.8M505.9,494.8q4.0,-1.1 2.4,2.7M511.9,495.6q-1.7,3.0 1.7,3.0M517.9,494.2l1.9,1.9M524.2,494.9q2.6,1.3 -0.1,2.5M529.1,494.8q3.6,3.1 3.6,-1.6M537.9,494.4q-2.4,-3.4 -3.5,0.6M542.3,495.6q-2.7,-0.7 -2.2,2.1M545.9,494.5l-0.5,-0.5M550.4,497.7l-0.3,-0.6M554.3,496.8l-2.4,1.8M503.3,499.4l-0.6,0.4M509.4,501.2l1.0,1.9l-1.9,0.2M511.2,502.1l-1.7,3.0l2.4,0.6M517.3,498.6l-0.6,-0.3M525.4,500.2l-3.1,0.5M533.6,500.9l3.5,-0.8l0.1,-1.9M540.3,499.6q-4.5,-0.2 -1.5,-3.5M543.6,499.7l-0.4,0.6M547.7,500.5q-3.6,-0.1 -1.1,-2.7M551.1,498.9l-0.5,0.5M556.4,499.8q4.8,0.6 1.2,3.8M504.9,504.4q4.5,-0.8 2.3,3.2M514.2,503.3l-0.7,0.2M522.4,505.2l-0.7,0.2M524.1,504.7l-1.4,-2.5M532.7,505.9l1.1,-0.9M536.7,505.7l-1.4,-0.3M541.5,506.0q-3.3,-2.0 0.3,-3.4M544.1,506.5l2.3,-1.2l1.6,1.8M548.9,505.4l0.7,-0.1M556.5,506.1l-1.4,-0.3M511.7,507.1l0.7,0.2M519.6,507.4l-2.4,2.5l1.0,1.1M521.1,508.8l2.5,1.5M529.4,508.7l0.6,-0.3M534.5,510.1q-2.3,1.0 -0.3,2.5M538.9,507.1q-4.3,1.8 -3.0,-2.7M545.1,507.9l2.9,1.4l0.5,-1.7M549.3,507.2l-0.5,2.3l-2.1,-1.5M554.8,510.3q-1.2,3.4 -4.0,1.1M514.0,513.6q-2.2,-3.7 2.1,-3.1M523.0,514.5q3.5,1.6 0.4,3.9M524.4,512.0l2.2,0.4M532.2,516.0l-1.0,1.3M534.4,515.1l-0.7,-2.2l2.2,0.0M540.7,512.1q-4.3,0.8 -1.1,3.7M551.3,512.9q-5.0,0.8 -1.3,4.3M519.9,517.8l2.0,0.5l0.2,2.3M522.8,519.5l-0.7,-0.2M526.9,517.7l-0.6,-0.4M533.2,516.9q-1.4,2.6 1.5,3.1M539.8,516.9q2.0,1.6 -0.4,2.5M546.2,516.8q0.8,2.4 -1.7,1.9M553.9,518.2l0.0,0.7M522.6,521.7q1.5,5.1 -3.3,2.9M529.0,524.2l-0.2,-0.7M536.7,522.6q1.2,-3.7 -2.3,-2.1M540.4,522.4l-0.9,3.1l1.9,0.8M547.0,523.7l-0.1,-2.9M551.9,521.8l0.6,0.4M531.1,529.0l-3.4,0.2l0.4,1.9M541.6,528.5l2.1,-2.2M546.1,526.4l-1.8,0.7M534.8,530.6l-1.5,-1.9" fill="none" stroke="#303030" stroke-width="1.25" stroke-linecap="round" stroke-linejoin="round"/>
<path d="M433.0,464.0 L690.0,293.3" fill="none" stroke="#1c1c1c" stroke-width="1.7" />
<path d="M440.3,470.0 L696.7,299.0" fill="none" stroke="#1c1c1c" stroke-width="1.7" />
<path d="M454.3,486.0 L692.2,324.4" fill="none" stroke="#1c1c1c" stroke-width="1.7" />
<path d="M559.3,495.0 L763.3,349.6" fill="none" stroke="#1c1c1c" stroke-width="1.7" />
<path d="M566.7,503.0 L770.0,355.6" fill="none" stroke="#1c1c1c" stroke-width="1.7" />
<path d="M559.3,495.0 L566.7,503.0" fill="none" stroke="#1c1c1c" stroke-width="1.7" />
<path d="M473.3,475.0 L534.7,534.3" fill="none" stroke="#1c1c1c" stroke-width="1.7" />
<path d="M473.3,475.0 L479.3,491.0" fill="none" stroke="#1c1c1c" stroke-width="1.3" />
<path d="M480.7,509.0 L489.3,516.3 L534.7,534.3" fill="none" stroke="#1c1c1c" stroke-width="1.4" />
<path d="M512.0,552.3 L534.7,534.3 L553.3,523.7" fill="none" stroke="#1c1c1c" stroke-width="1.7" />
<path d="M534.7,534.3 L536.0,553.0" fill="none" stroke="#1c1c1c" stroke-width="1.7" />
<path d="M558.0,496.3 C557.8,498.4 557.5,504.7 556.7,509.0 C556.0,513.3 554.9,517.9 553.5,522.3 C552.1,526.7 550.6,531.1 548.5,535.5 C546.4,539.9 543.9,544.0 541.0,548.5 C538.1,553.0 534.4,558.5 531.0,562.5 C527.6,566.5 523.8,569.7 520.5,572.5 C517.2,575.3 513.0,578.3 511.5,579.5" fill="none" stroke="#1c1c1c" stroke-width="1.1" />
<path d="M565.5,502.5 C565.3,504.5 565.2,510.1 564.5,514.3 C563.8,518.5 562.9,523.3 561.5,527.7 C560.1,532.1 558.1,536.4 556.0,540.5 C553.9,544.6 551.7,548.6 549.0,552.5 C546.3,556.4 543.8,559.8 540.0,564.0 C536.2,568.2 530.6,573.5 526.0,577.5 C521.4,581.5 514.5,586.0 512.2,587.7" fill="none" stroke="#1c1c1c" stroke-width="1.1" />
<path d="M558.0,496.3 L565.4,504.2" fill="none" stroke="#5c5c5c" stroke-width="1.1" />
<path d="M557.6,499.9 L565.1,507.5" fill="none" stroke="#5c5c5c" stroke-width="1.1" />
<path d="M557.3,503.4 L564.8,510.8" fill="none" stroke="#5c5c5c" stroke-width="1.1" />
<path d="M556.9,507.0 L564.5,514.1" fill="none" stroke="#5c5c5c" stroke-width="1.1" />
<path d="M556.3,510.6 L563.7,517.8" fill="none" stroke="#5c5c5c" stroke-width="1.1" />
<path d="M555.4,514.3 L562.9,521.5" fill="none" stroke="#5c5c5c" stroke-width="1.1" />
<path d="M554.5,518.0 L562.0,525.3" fill="none" stroke="#5c5c5c" stroke-width="1.1" />
<path d="M553.6,521.8 L561.0,529.0" fill="none" stroke="#5c5c5c" stroke-width="1.1" />
<path d="M552.3,525.5 L559.4,532.6" fill="none" stroke="#5c5c5c" stroke-width="1.1" />
<path d="M550.9,529.2 L557.9,536.1" fill="none" stroke="#5c5c5c" stroke-width="1.1" />
<path d="M549.5,532.9 L556.3,539.7" fill="none" stroke="#5c5c5c" stroke-width="1.1" />
<path d="M547.9,536.5 L554.5,543.1" fill="none" stroke="#5c5c5c" stroke-width="1.1" />
<path d="M545.8,540.2 L552.5,546.5" fill="none" stroke="#5c5c5c" stroke-width="1.1" />
<path d="M543.7,543.8 L550.5,549.9" fill="none" stroke="#5c5c5c" stroke-width="1.1" />
<path d="M541.6,547.5 L548.5,553.2" fill="none" stroke="#5c5c5c" stroke-width="1.1" />
<path d="M539.0,551.3 L545.9,556.4" fill="none" stroke="#5c5c5c" stroke-width="1.1" />
<path d="M536.2,555.2 L543.4,559.6" fill="none" stroke="#5c5c5c" stroke-width="1.1" />
<path d="M533.4,559.1 L540.9,562.9" fill="none" stroke="#5c5c5c" stroke-width="1.1" />
<path d="M530.6,562.9 L537.5,566.4" fill="none" stroke="#5c5c5c" stroke-width="1.1" />
<path d="M527.6,565.7 L533.6,570.2" fill="none" stroke="#5c5c5c" stroke-width="1.1" />
<path d="M524.7,568.5 L529.6,574.0" fill="none" stroke="#5c5c5c" stroke-width="1.1" />
<path d="M521.8,571.3 L525.7,577.7" fill="none" stroke="#5c5c5c" stroke-width="1.1" />
<path d="M519.1,573.6 L521.9,580.6" fill="none" stroke="#5c5c5c" stroke-width="1.1" />
<path d="M516.5,575.6 L518.0,583.4" fill="none" stroke="#5c5c5c" stroke-width="1.1" />
<path d="M514.0,577.5 L514.1,586.3" fill="none" stroke="#5c5c5c" stroke-width="1.1" />
<path d="M511.5,579.5 L512.2,587.7" fill="none" stroke="#5c5c5c" stroke-width="1.1" />
<path d="M250.0,379.0 C253.2,379.2 263.8,378.9 269.3,380.0 C274.9,381.1 279.4,382.8 283.3,385.3 C287.2,387.9 290.2,391.5 292.7,395.3 C295.1,399.1 297.2,403.7 298.0,408.0 C298.8,412.3 298.2,417.2 297.7,421.3 C297.2,425.4 295.6,429.4 295.0,432.7 C294.4,436.0 293.6,438.0 294.3,441.3 C295.0,444.6 296.8,449.1 299.0,452.7 C301.2,456.3 304.2,460.0 307.5,462.7 C310.8,465.4 313.8,467.2 319.0,469.0 C324.2,470.8 331.8,472.2 339.0,473.5 C346.2,474.8 355.2,474.6 362.0,476.5 C368.8,478.4 375.2,481.4 380.0,485.0 C384.8,488.6 388.5,493.1 391.0,498.0 C393.5,502.9 394.5,508.7 395.0,514.5 C395.5,520.3 393.7,526.6 394.0,533.0 C394.3,539.4 395.8,548.0 397.0,553.0 C398.2,558.0 399.2,559.5 401.0,563.0 C402.8,566.5 405.2,571.2 408.0,574.0 C410.8,576.8 413.5,578.6 418.0,580.0 C422.5,581.4 428.3,581.9 435.0,582.5 C441.7,583.1 450.7,582.8 458.0,583.5 C465.3,584.2 475.5,586.0 479.0,586.5" fill="none" stroke="#1c1c1c" stroke-width="10.8" stroke-linecap="butt" stroke-linejoin="round"/>
<path d="M250.0,379.0 C253.2,379.2 263.8,378.9 269.3,380.0 C274.9,381.1 279.4,382.8 283.3,385.3 C287.2,387.9 290.2,391.5 292.7,395.3 C295.1,399.1 297.2,403.7 298.0,408.0 C298.8,412.3 298.2,417.2 297.7,421.3 C297.2,425.4 295.6,429.4 295.0,432.7 C294.4,436.0 293.6,438.0 294.3,441.3 C295.0,444.6 296.8,449.1 299.0,452.7 C301.2,456.3 304.2,460.0 307.5,462.7 C310.8,465.4 313.8,467.2 319.0,469.0 C324.2,470.8 331.8,472.2 339.0,473.5 C346.2,474.8 355.2,474.6 362.0,476.5 C368.8,478.4 375.2,481.4 380.0,485.0 C384.8,488.6 388.5,493.1 391.0,498.0 C393.5,502.9 394.5,508.7 395.0,514.5 C395.5,520.3 393.7,526.6 394.0,533.0 C394.3,539.4 395.8,548.0 397.0,553.0 C398.2,558.0 399.2,559.5 401.0,563.0 C402.8,566.5 405.2,571.2 408.0,574.0 C410.8,576.8 413.5,578.6 418.0,580.0 C422.5,581.4 428.3,581.9 435.0,582.5 C441.7,583.1 450.7,582.8 458.0,583.5 C465.3,584.2 475.5,586.0 479.0,586.5" fill="none" stroke="#fff" stroke-width="7.4" stroke-linecap="butt" stroke-linejoin="round"/>
<path d="M250.0,373.8 L250.0,384.2" fill="none" stroke="#1c1c1c" stroke-width="1.7" />
<path d="M480.8,581.3 L478.0,591.8" fill="none" stroke="#1c1c1c" stroke-width="1.7" />
<path d="M709.3,339.0 C709.2,340.3 709.0,343.8 708.8,347.0 C708.5,350.2 708.0,354.9 707.8,358.5 C707.5,362.1 707.7,365.2 707.3,368.5 C706.9,371.8 706.8,375.0 705.3,378.5 C703.8,382.0 702.2,386.3 698.5,389.3 C694.8,392.3 689.4,394.8 683.0,396.3 C676.6,397.8 666.3,398.1 660.0,398.3 C653.7,398.5 649.8,397.7 645.0,397.6 C640.2,397.5 635.9,396.5 631.0,397.5 C626.1,398.5 620.1,400.7 615.5,403.5 C610.9,406.3 606.5,410.4 603.5,414.5 C600.5,418.6 598.8,422.9 597.5,428.0 C596.2,433.1 597.1,439.7 596.0,445.0 C594.9,450.3 593.3,455.6 591.0,460.0 C588.7,464.4 586.0,467.9 582.0,471.5 C578.0,475.1 572.3,479.5 567.0,481.5 C561.7,483.5 555.7,483.3 550.0,483.5 C544.3,483.7 538.7,482.9 533.0,482.5 C527.3,482.1 521.7,480.6 516.0,481.0 C510.3,481.4 503.9,483.0 499.0,485.0 C494.1,487.0 489.9,489.8 486.5,493.0 C483.1,496.2 479.8,502.6 478.5,504.5" fill="none" stroke="#1c1c1c" stroke-width="9.5" stroke-linecap="round" stroke-linejoin="round"/>
<path d="M709.3,339.0 C709.2,340.3 709.0,343.8 708.8,347.0 C708.5,350.2 708.0,354.9 707.8,358.5 C707.5,362.1 707.7,365.2 707.3,368.5 C706.9,371.8 706.8,375.0 705.3,378.5 C703.8,382.0 702.2,386.3 698.5,389.3 C694.8,392.3 689.4,394.8 683.0,396.3 C676.6,397.8 666.3,398.1 660.0,398.3 C653.7,398.5 649.8,397.7 645.0,397.6 C640.2,397.5 635.9,396.5 631.0,397.5 C626.1,398.5 620.1,400.7 615.5,403.5 C610.9,406.3 606.5,410.4 603.5,414.5 C600.5,418.6 598.8,422.9 597.5,428.0 C596.2,433.1 597.1,439.7 596.0,445.0 C594.9,450.3 593.3,455.6 591.0,460.0 C588.7,464.4 586.0,467.9 582.0,471.5 C578.0,475.1 572.3,479.5 567.0,481.5 C561.7,483.5 555.7,483.3 550.0,483.5 C544.3,483.7 538.7,482.9 533.0,482.5 C527.3,482.1 521.7,480.6 516.0,481.0 C510.3,481.4 503.9,483.0 499.0,485.0 C494.1,487.0 489.9,489.8 486.5,493.0 C483.1,496.2 479.8,502.6 478.5,504.5" fill="none" stroke="#fff" stroke-width="6.3" stroke-linecap="round" stroke-linejoin="round"/>
<path d="M470.0,501.5 L490.0,520.5" fill="none" stroke="#1c1c1c" stroke-width="1.7" />
<path d="M405.8,220.5 L411.8,313.5" fill="none" stroke="#484848" stroke-width="3.9" stroke-linecap="round"/>
<path d="M405.8,223.5 L411.8,313.5" fill="none" stroke="#707070" stroke-width="1.17" />
<ellipse cx="405.8" cy="220.5" rx="3.5" ry="2.7" fill="#2e2e2e"/>
<path d="M454.2,193.0 L456.9,286.2" fill="none" stroke="#484848" stroke-width="4.3" stroke-linecap="round"/>
<path d="M454.2,196.0 L456.9,286.2" fill="none" stroke="#707070" stroke-width="1.2899999999999998" />
<ellipse cx="454.2" cy="193.0" rx="3.6" ry="2.7" fill="#2e2e2e"/>
<path d="M466.6,116.0 L468.3,209.0" fill="none" stroke="#484848" stroke-width="3.6" stroke-linecap="round"/>
<path d="M466.6,119.0 L468.3,209.0" fill="none" stroke="#505050" stroke-width="1.08" />
<ellipse cx="466.6" cy="116.0" rx="3.3" ry="2.7" fill="#2e2e2e"/>
<path d="M503.4,144.5 L503.4,237.8" fill="none" stroke="#484848" stroke-width="4.3" stroke-linecap="round"/>
<path d="M503.4,147.5 L503.4,237.8" fill="none" stroke="#7c7c7c" stroke-width="1.2899999999999998" />
<ellipse cx="503.4" cy="144.5" rx="3.6" ry="2.7" fill="#2e2e2e"/>
<path d="M210.0,487.1 L258.9,456.7" fill="none" stroke="#111" stroke-width="3.2" stroke-linecap="round"/>
<circle cx="210" cy="487.1" r="2.4" fill="#111"/>
<path d="M345.0,638.3 L394.0,604.0" fill="none" stroke="#111" stroke-width="3.2" stroke-linecap="round"/>
<circle cx="345" cy="638.3" r="2.4" fill="#111"/>
<path d="M727.8,397.1 L768.9,430.0" fill="none" stroke="#111" stroke-width="3.2" stroke-linecap="round"/>
<circle cx="768.9" cy="430" r="2.4" fill="#111"/>
<path d="M571.0,511.0 L611.0,549.0" fill="none" stroke="#111" stroke-width="3.2" stroke-linecap="round"/>
<circle cx="611" cy="549" r="2.4" fill="#111"/>
<path d="M202.3,448.0 L219.7,435.3" fill="none" stroke="#5e5e5e" stroke-width="1.8" />
<path d="M208.0,454.3 L224.3,443.0" fill="none" stroke="#5e5e5e" stroke-width="1.8" />
<path d="M240.0,477.8 L246.7,487.8" fill="none" stroke="#5e5e5e" stroke-width="1.8" />
<path d="M246.7,472.2 L254.4,482.2" fill="none" stroke="#5e5e5e" stroke-width="1.8" />
<path d="M230.0,503.3 L230.4,528.4" fill="none" stroke="#7c7c7c" stroke-width="2.2" />
<path d="M237.8,502.2 L239.3,528.4" fill="none" stroke="#7c7c7c" stroke-width="2.2" />
<path d="M286.7,515.1 L305.6,521.1" fill="none" stroke="#5e5e5e" stroke-width="1.8" />
<path d="M283.3,523.3 L302.2,530.0" fill="none" stroke="#5e5e5e" stroke-width="1.8" />
<path d="M252.2,537.8 L271.1,544.4" fill="none" stroke="#5e5e5e" stroke-width="1.8" />
<path d="M248.9,545.6 L268.9,552.2" fill="none" stroke="#5e5e5e" stroke-width="1.8" />
<path d="M262.2,584.4 L280.0,572.9" fill="none" stroke="#5e5e5e" stroke-width="1.8" />
<path d="M267.8,591.1 L285.1,579.6" fill="none" stroke="#5e5e5e" stroke-width="1.8" />
<path d="M313.3,568.9 L320.0,579.6" fill="none" stroke="#5e5e5e" stroke-width="1.8" />
<path d="M320.0,564.0 L327.3,573.8" fill="none" stroke="#5e5e5e" stroke-width="1.8" />
<path d="M302.7,594.3 L303.3,620.7" fill="none" stroke="#7c7c7c" stroke-width="2.2" />
<path d="M311.7,594.3 L312.7,620.7" fill="none" stroke="#7c7c7c" stroke-width="2.2" />
<path d="M343.8,602.5 L360.0,592.0" fill="none" stroke="#5e5e5e" stroke-width="1.8" />
<path d="M351.0,608.5 L366.0,598.8" fill="none" stroke="#5e5e5e" stroke-width="1.8" />
<path d="M381.7,631.7 L388.3,640.0" fill="none" stroke="#5e5e5e" stroke-width="1.8" />
<path d="M386.7,626.7 L395.0,636.0" fill="none" stroke="#5e5e5e" stroke-width="1.8" />
<path d="M370.0,656.0 L372.7,682.7" fill="none" stroke="#7c7c7c" stroke-width="2.2" />
<path d="M379.3,656.0 L381.7,682.7" fill="none" stroke="#7c7c7c" stroke-width="2.2" />
<path d="M597.5,515.3 L614.0,504.7" fill="none" stroke="#5e5e5e" stroke-width="1.8" />
<path d="M602.2,523.3 L619.0,512.0" fill="none" stroke="#5e5e5e" stroke-width="1.8" />
<path d="M566.0,571.7 L573.3,580.0" fill="none" stroke="#5e5e5e" stroke-width="1.8" />
<path d="M575.0,566.7 L581.7,575.0" fill="none" stroke="#5e5e5e" stroke-width="1.8" />
<path d="M556.7,596.7 L557.3,621.7" fill="none" stroke="#7c7c7c" stroke-width="2.2" />
<path d="M565.0,596.0 L567.3,621.7" fill="none" stroke="#7c7c7c" stroke-width="2.2" />
<path d="M618.3,571.7 L635.0,560.0" fill="none" stroke="#5e5e5e" stroke-width="1.8" />
<path d="M623.3,578.3 L640.0,567.7" fill="none" stroke="#5e5e5e" stroke-width="1.8" />
<path d="M661.0,532.8 L677.5,521.4" fill="none" stroke="#5e5e5e" stroke-width="1.8" />
<path d="M666.0,539.5 L682.3,528.5" fill="none" stroke="#5e5e5e" stroke-width="1.8" />
<path d="M710.0,515.8 L719.0,526.7" fill="none" stroke="#5e5e5e" stroke-width="1.8" />
<path d="M716.7,511.4 L725.2,520.8" fill="none" stroke="#5e5e5e" stroke-width="1.8" />
<path d="M700.8,541.8 L701.3,568.3" fill="none" stroke="#7c7c7c" stroke-width="2.2" />
<path d="M709.3,541.8 L710.7,568.3" fill="none" stroke="#7c7c7c" stroke-width="2.2" />
<path d="M720.0,424.7 L728.0,434.7" fill="none" stroke="#5e5e5e" stroke-width="1.8" />
<path d="M726.5,420.5 L733.0,428.6" fill="none" stroke="#5e5e5e" stroke-width="1.8" />
<path d="M710.0,450.0 L711.2,476.0" fill="none" stroke="#7c7c7c" stroke-width="2.2" />
<path d="M718.0,450.0 L719.6,476.0" fill="none" stroke="#7c7c7c" stroke-width="2.2" />
<path d="M648.9,484.4 L669.3,491.1" fill="none" stroke="#5e5e5e" stroke-width="1.8" />
<path d="M646.7,493.3 L665.6,500.0" fill="none" stroke="#5e5e5e" stroke-width="1.8" />
<path d="M333.0,74.0 C327.0,73.6 309.2,70.7 297.0,71.7 C284.8,72.7 270.7,75.8 260.0,80.0 C249.3,84.2 240.0,91.4 233.0,96.7 C226.0,102.0 221.1,108.0 218.0,111.7 C214.9,115.4 215.1,117.8 214.5,119.0" fill="none" stroke="#1c1c1c" stroke-width="1.5" />
<path d="M212.7,121.7 L214.3,102.8 L219.0,111.5 L228.8,111.6 Z" fill="#1c1c1c"/>
<path d="M552.7,71.0 C557.2,71.1 569.9,69.7 580.0,71.7 C590.1,73.8 603.3,78.0 613.3,83.3 C623.3,88.6 632.9,96.5 640.0,103.3 C647.1,110.1 653.3,120.5 656.0,124.0" fill="none" stroke="#1c1c1c" stroke-width="1.5" />
<path d="M662.7,131.7 L646.5,121.7 L656.4,121.5 L661.0,112.8 Z" fill="#1c1c1c"/>
<path d="M766.5,187.5 C757.1,185.2 727.8,177.8 710.0,174.0 C692.2,170.2 674.7,166.8 660.0,165.0 C645.3,163.2 632.5,163.6 622.0,163.3 C611.5,163.0 605.4,162.9 596.7,163.3 C588.0,163.8 577.8,164.9 570.0,166.0 C562.2,167.1 556.7,168.4 550.0,170.0 C543.3,171.6 536.0,173.5 530.0,175.3 C524.0,177.1 516.7,180.1 514.0,181.0" fill="none" stroke="#1c1c1c" stroke-width="1.5" />
<path d="M504.8,186.5 L515.2,171.7 L514.6,181.5 L522.9,186.8 Z" fill="#1c1c1c"/>
<path d="M137.2,332.7 C142.0,332.4 155.1,331.2 165.9,331.0 C176.7,330.8 191.5,330.9 201.8,331.7 C212.2,332.4 221.1,334.1 228.0,335.5 C234.9,336.9 239.0,338.8 243.3,340.0 C247.6,341.2 250.7,341.1 254.0,342.7 C257.3,344.2 260.9,346.9 263.3,349.3 C265.8,351.7 267.6,354.5 268.7,357.3 C269.8,360.1 269.8,364.6 270.0,366.0" fill="none" stroke="#1c1c1c" stroke-width="1.5" />
<path d="M270.0,376.3 L261.4,360.8 L270.0,365.8 L278.6,360.8 Z" fill="#1c1c1c"/>
<path d="M771.0,489.2 C769.2,489.1 764.0,489.1 760.0,488.4 C756.0,487.7 751.4,487.5 746.7,485.0 C742.0,482.5 735.0,478.0 731.7,473.3 C728.4,468.6 726.7,462.8 726.7,456.7 C726.7,450.6 729.5,442.5 731.7,436.7 C733.9,430.9 738.6,424.4 740.0,422.0" fill="none" stroke="#1c1c1c" stroke-width="1.5" />
<path d="M745.0,413.8 L744.7,431.7 L739.9,423.5 L730.5,424.3 Z" fill="#1c1c1c"/>
<path d="M587.5,646.6 C585.4,647.1 579.6,649.1 575.0,649.8 C570.4,650.5 566.4,650.8 560.0,650.8 C553.6,650.8 543.4,650.5 536.7,649.7 C530.0,648.9 525.6,647.5 520.0,645.8 C514.4,644.0 508.9,642.1 503.3,639.2 C497.8,636.3 492.2,632.6 486.7,628.3 C481.1,624.0 474.0,617.1 470.0,613.3 C466.0,609.5 463.8,606.8 462.5,605.5" fill="none" stroke="#1c1c1c" stroke-width="1.5" />
<path d="M456.8,599.8 L474.4,607.1 L464.7,608.9 L461.5,618.2 Z" fill="#1c1c1c"/>
<text x="344.1" y="84.2" font-size="28.6" textLength="178.5" lengthAdjust="spacingAndGlyphs" fill="#1a1a1a">2x4 Top Plates</text>
<text x="774.8" y="195.4" font-size="28.6" textLength="106" lengthAdjust="spacingAndGlyphs" fill="#1a1a1a">Fastener</text>
<text x="775.4" y="232.6" font-size="28.6" textLength="178.5" lengthAdjust="spacingAndGlyphs" fill="#1a1a1a">(see schedule)</text>
<text x="18.3" y="308.1" font-size="28.6" textLength="216.5" lengthAdjust="spacingAndGlyphs" fill="#1a1a1a">Continuous Bead</text>
<text x="18.3" y="345.1" font-size="28.6" textLength="102" lengthAdjust="spacingAndGlyphs" fill="#1a1a1a">of Foam</text>
<text x="779" y="502.4" font-size="28.6" textLength="105.5" lengthAdjust="spacingAndGlyphs" fill="#1a1a1a">Fastener</text>
<text x="779.3" y="539.9" font-size="28.6" textLength="178.5" lengthAdjust="spacingAndGlyphs" fill="#1a1a1a">(see schedule)</text>
<text x="598.3" y="660.0" font-size="28.6" textLength="175" lengthAdjust="spacingAndGlyphs" fill="#1a1a1a">2x4 End Block</text>
</g>
</svg>
</body></html>
